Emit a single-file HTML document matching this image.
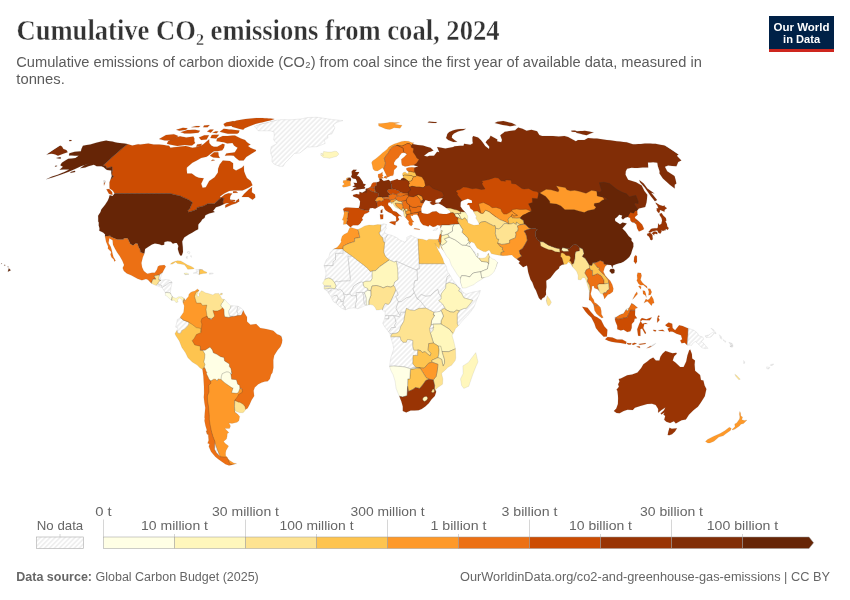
<!DOCTYPE html>
<html><head><meta charset="utf-8"><style>
html,body{margin:0;padding:0;background:#fff;overflow:hidden;width:850px;height:600px;}
svg{display:block;will-change:transform;}
.t{font-family:"Liberation Serif",serif;font-weight:bold;font-size:28px;fill:#333;stroke:#fff;stroke-width:0.35px;}
.st{font-family:"Liberation Sans",sans-serif;font-size:14.7px;fill:#5b5b5b;}
.lg{font-family:"Liberation Sans",sans-serif;font-size:12.8px;fill:#666;}
.ft{font-family:"Liberation Sans",sans-serif;font-size:12.5px;fill:#666;}
.logo{font-family:"Liberation Sans",sans-serif;font-weight:bold;font-size:11.8px;fill:#fff;}
</style></head><body>
<svg width="850" height="600" viewBox="0 0 850 600">
<defs>
<pattern id="hatch" patternUnits="userSpaceOnUse" width="3.5" height="3.5" patternTransform="rotate(-45 2 2)">
<rect x="-1" y="-1" width="6" height="6" fill="#fff"/><path d="M -1,1.75 l 6,0" stroke="#e0e0e0" stroke-width="0.9"/></pattern>
</defs>
<rect width="850" height="600" fill="#fff"/>
<text x="16.5" y="40.5" class="t" transform="translate(0,40.5) scale(1,1.04) translate(0,-40.5)" textLength="483" lengthAdjust="spacingAndGlyphs">Cumulative CO<tspan font-size="17" dy="4">2</tspan><tspan dy="-4"> emissions from coal, 2024</tspan></text>
<text x="16.3" y="66.6" class="st" textLength="685.5" lengthAdjust="spacingAndGlyphs">Cumulative emissions of carbon dioxide (CO₂) from coal since the first year of available data, measured in</text>
<text x="16.3" y="83.8" class="st" textLength="48.5" lengthAdjust="spacingAndGlyphs">tonnes.</text>
<rect x="769" y="16" width="65" height="36" fill="#002147"/>
<rect x="769" y="49" width="65" height="3" fill="#ce261e"/>
<text x="801.5" y="30.7" text-anchor="middle" class="logo" textLength="56" lengthAdjust="spacingAndGlyphs">Our World</text>
<text x="801.6" y="42.5" text-anchor="middle" class="logo" textLength="37" lengthAdjust="spacingAndGlyphs">in Data</text>
<g id="map">
<defs><clipPath id="land">
<path clip-rule="evenodd" d="M182.9,302.5L181.9,299.6L179.5,298.1L177.3,299.9L178.1,302.0L176.0,302.5L174.3,300.2L171.5,300.4L169.8,298.9L166.9,296.2L165.4,295.5L165.3,292.6L163.3,289.4L161.6,287.4L158.5,286.3L154.9,285.0L151.4,283.4L147.9,279.8L146.0,279.0L141.9,280.3L137.6,278.7L134.4,277.1L131.2,275.3L126.9,273.5L123.9,270.9L122.7,268.0L124.1,265.1L122.4,260.7L119.7,256.0L117.2,252.5L114.9,248.4L113.0,244.7L112.6,240.2L109.3,238.2L108.5,242.9L110.7,246.8L111.9,250.7L112.4,253.3L113.5,257.3L114.1,258.0L115.6,260.7L114.3,261.4L113.8,259.6L111.5,257.3L110.5,254.6L111.3,252.0L107.9,248.6L108.1,246.5L106.1,241.8L105.4,238.2L104.9,236.3L105.1,234.5L103.4,232.7L102.0,231.9L99.3,230.8L99.5,228.2L98.7,225.6L98.8,222.5L98.2,221.4L98.2,218.0L98.1,215.7L100.5,212.1L101.3,209.5L105.1,204.8L107.7,200.7L108.9,197.9L109.7,195.1L112.6,195.9L114.5,193.6L113.4,191.5L112.3,190.3L109.6,188.5L109.5,186.0L109.5,182.2L110.6,179.3L111.8,176.1L111.2,173.6L111.3,170.4L107.0,170.0L105.9,169.2L103.7,167.3L101.4,166.3L96.7,166.3L93.9,164.7L88.4,166.3L85.3,167.6L80.2,168.3L84.2,165.2L88.8,163.5L81.0,166.3L75.6,168.8L68.7,171.7L60.5,174.8L53.1,177.3L46.2,179.3L52.0,176.6L57.7,174.8L64.9,171.7L69.2,169.5L66.4,169.5L63.6,169.5L59.6,169.7L62.9,166.8L60.3,165.2L61.8,162.8L65.3,160.4L68.3,158.8L71.8,158.4L75.4,158.1L78.7,155.7L74.8,155.7L71.9,155.6L68.9,155.5L69.4,153.2L74.7,151.8L77.8,151.5L80.9,151.2L81.4,148.9L82.9,145.8L86.6,145.1L90.2,144.5L96.1,142.7L101.1,141.6L106.2,140.6L108.3,140.9L110.4,141.3L112.5,141.6L115.0,142.2L117.6,142.7L119.8,142.9L122.0,143.2L124.7,143.6L127.4,144.1L129.8,144.8L132.3,145.6L138.1,144.2L140.3,144.5L144.3,143.9L148.3,143.4L151.0,143.9L153.7,144.5L156.4,144.5L159.1,144.6L161.8,144.7L164.2,145.1L166.6,145.4L169.1,145.8L170.5,147.8L173.7,147.3L177.0,146.9L180.2,146.5L183.0,146.2L185.7,146.0L188.0,146.6L190.3,147.2L192.6,147.8L195.6,147.2L198.6,146.7L203.0,144.5L209.2,139.3L209.3,142.9L211.3,145.6L213.8,146.7L217.2,146.7L222.7,143.8L224.7,144.5L224.0,147.8L222.3,150.3L217.4,151.2L213.9,151.2L208.1,155.7L206.6,156.7L201.1,158.1L196.8,160.4L192.4,162.8L186.9,167.6L186.7,169.2L187.1,173.6L191.8,173.6L193.8,175.1L195.8,176.6L198.9,177.8L203.8,178.3L201.2,183.7L202.6,187.8L205.8,187.3L209.2,181.0L214.6,177.3L217.9,172.4L218.1,168.8L219.7,164.4L222.8,160.6L226.3,160.8L229.9,160.9L233.1,163.2L233.1,168.8L236.0,170.4L242.0,167.6L243.8,165.6L244.1,171.2L245.4,174.8L246.9,178.0L250.7,181.0L252.5,185.2L249.4,187.3L245.9,188.9L242.4,190.5L239.3,190.5L236.3,190.5L233.3,190.5L229.1,191.0L224.2,193.6L220.0,196.6L220.8,197.4L224.8,194.6L228.3,193.3L232.3,193.6L230.4,196.1L229.9,198.7L231.0,200.5L234.7,201.8L236.2,202.3L238.5,198.9L239.4,201.2L236.3,203.3L231.7,204.8L225.2,207.7L225.4,205.1L229.4,203.0L226.0,203.3L223.6,204.3L220.0,205.9L216.0,207.2L213.8,210.0L213.1,210.8L214.8,212.1L212.1,212.8L209.1,213.6L205.4,215.2L204.5,218.0L202.1,219.6L201.2,221.2L198.7,224.0L198.3,224.8L198.2,229.3L195.7,230.6L192.1,232.7L188.8,234.5L184.2,237.6L182.2,241.6L182.8,247.1L183.0,252.0L181.8,255.4L180.2,255.4L179.0,253.1L177.8,248.9L178.4,246.0L176.8,243.1L175.0,242.9L172.9,243.7L170.9,241.8L167.7,241.3L164.4,242.1L164.2,244.7L161.8,245.2L159.2,244.2L154.9,243.4L152.0,244.4L147.3,247.6L145.1,249.1L144.4,253.6L142.8,257.3L141.4,263.0L142.1,267.2L143.8,271.1L146.3,273.0L147.4,273.7L152.0,272.7L154.8,272.7L157.0,269.6L157.9,266.4L159.6,265.6L164.4,265.1L165.8,266.4L163.7,270.3L162.2,273.2L161.2,275.6L160.3,279.5L159.3,280.0L162.5,280.0L166.0,279.5L169.4,280.0L172.2,282.1L171.0,287.4L170.4,292.6L171.6,295.2L173.1,297.3L176.0,298.3L178.6,296.8L181.8,296.8L184.3,298.6L185.1,300.7Z"/>
<path clip-rule="evenodd" d="M241.7,197.1L245.0,197.1L248.4,197.1L252.6,199.7L255.3,197.4L255.0,194.6L251.8,192.3L252.1,187.0L248.7,189.5L244.0,194.1Z"/>
<path clip-rule="evenodd" d="M112.5,195.1L108.9,193.8L106.4,189.3L109.2,189.0L112.1,192.1Z"/>
<path clip-rule="evenodd" d="M104.0,185.5L103.7,180.8L105.7,181.0Z"/>
<path clip-rule="evenodd" d="M233.0,193.1L238.0,192.8L236.1,191.3L233.1,191.3Z"/>
<path clip-rule="evenodd" d="M230.6,199.7L235.3,200.0L234.9,201.2L231.3,200.7Z"/>
<path clip-rule="evenodd" d="M235.6,202.3L238.9,201.5L239.0,198.7L236.1,200.7Z"/>
<path clip-rule="evenodd" d="M255.9,150.9L250.2,154.6L246.3,156.9L243.6,160.4L239.1,160.4L235.9,158.1L233.7,155.7L231.2,155.5L228.0,155.6L224.9,155.7L226.3,153.4L229.2,153.1L232.0,152.7L234.8,152.3L237.6,147.8L235.8,146.7L234.0,145.6L232.5,142.9L229.8,143.2L227.2,143.4L223.9,142.3L221.4,141.9L218.9,141.6L216.5,141.2L217.0,138.6L222.7,135.9L225.1,135.9L227.5,135.9L230.0,135.8L232.5,135.6L235.0,135.5L236.9,136.5L238.9,137.6L240.9,138.4L243.0,139.3L245.1,140.1L247.0,142.3L248.8,143.4L250.6,144.5L248.0,146.0L250.4,147.8L253.2,148.9L256.0,150.0Z"/>
<path clip-rule="evenodd" d="M219.9,158.1L216.5,157.7L213.2,157.4L209.9,155.7L214.0,152.3L218.3,152.3L218.7,155.7Z"/>
<path clip-rule="evenodd" d="M215.0,160.2L210.9,161.1L212.7,159.5Z"/>
<path clip-rule="evenodd" d="M237.2,133.8L234.8,133.8L232.5,133.8L230.1,133.8L227.8,133.8L225.7,133.3L223.7,132.8L221.7,132.3L219.7,131.8L223.7,128.8L226.4,129.1L229.1,129.4L231.2,129.6L233.3,129.8L235.3,130.0L237.4,130.2L239.5,130.4L238.8,132.8Z"/>
<path clip-rule="evenodd" d="M243.2,129.8L241.0,129.3L238.8,128.8L237.1,128.3L235.3,127.8L233.6,127.3L231.9,126.8L231.8,124.9L231.5,122.3L236.5,120.6L239.5,120.0L242.5,119.5L245.5,119.0L248.2,118.7L250.8,118.5L253.5,118.3L256.2,118.0L258.3,118.1L260.5,118.1L262.6,118.1L264.8,118.2L266.9,118.2L268.8,118.4L270.6,118.6L272.5,118.8L274.4,119.0L270.3,120.4L266.6,121.3L262.9,122.3L259.1,123.1L255.4,124.0L250.8,125.7L248.2,126.8L244.7,128.2Z"/>
<path clip-rule="evenodd" d="M233.0,125.9L230.3,126.1L227.6,126.3L224.9,126.4L224.2,125.2L223.5,124.0L226.5,122.3L229.8,121.7L233.1,121.1L234.6,121.8L236.1,122.6Z"/>
<path clip-rule="evenodd" d="M216.2,138.6L213.3,138.3L210.4,138.0L211.8,134.9L214.2,134.8L216.7,134.7L219.1,134.7Z"/>
<path clip-rule="evenodd" d="M206.6,139.5L203.8,139.8L201.1,140.1L200.0,138.7L198.9,137.4L204.3,135.3L206.6,135.3L209.0,135.3Z"/>
<path clip-rule="evenodd" d="M200.3,146.7L196.1,146.7L197.1,144.5L201.9,143.8Z"/>
<path clip-rule="evenodd" d="M192.0,145.6L189.6,145.4L187.2,145.3L184.8,145.1L181.1,145.6L177.3,146.0L174.7,145.6L172.2,145.1L169.6,144.5L166.9,143.8L168.1,141.2L173.3,138.0L176.7,137.2L180.1,136.3L182.1,136.7L184.1,137.0L186.1,137.4L189.8,136.9L193.4,136.5L194.4,138.6L194.3,141.2L195.2,142.9Z"/>
<path clip-rule="evenodd" d="M174.2,140.1L171.0,140.3L167.9,140.4L164.7,140.6L162.8,140.1L161.0,139.6L159.1,139.1L166.0,134.9L168.7,134.7L171.3,134.4L173.9,134.2L176.0,135.1L178.2,135.9Z"/>
<path clip-rule="evenodd" d="M198.4,132.8L195.8,133.0L193.2,133.2L190.6,133.4L187.5,133.4L184.4,133.4L182.4,132.8L180.5,132.2L187.4,130.0L190.0,129.9L192.6,129.8L195.2,129.8L197.6,130.3L200.1,130.8Z"/>
<path clip-rule="evenodd" d="M210.8,132.8L208.9,132.1L207.0,131.4L209.9,129.6L213.7,129.6Z"/>
<path clip-rule="evenodd" d="M216.6,133.2L214.5,133.0L212.4,132.8L215.7,131.2L218.4,131.6Z"/>
<path clip-rule="evenodd" d="M186.1,129.8L182.8,130.3L179.4,130.8L177.8,130.3L176.2,129.8L182.9,127.8L185.3,128.0L187.6,128.2Z"/>
<path clip-rule="evenodd" d="M207.6,127.2L205.4,127.2L203.2,127.2L204.0,125.5L206.9,125.3L209.7,125.1Z"/>
<path clip-rule="evenodd" d="M198.7,127.2L196.2,127.2L193.7,127.2L191.2,127.2L196.2,125.9L198.2,126.0L200.3,126.1Z"/>
<path clip-rule="evenodd" d="M254.5,126.4L255.7,127.9L257.0,129.3L258.3,130.8L260.8,130.8L263.2,130.8L265.7,130.8L268.1,130.8L270.6,130.8L272.4,131.5L274.2,132.2L274.2,134.9L273.7,140.1L275.3,141.7L277.0,143.4L271.3,146.7L270.6,150.0L270.8,153.4L272.1,156.9L272.0,161.6L273.9,164.0L276.7,165.2L279.5,166.3L283.2,166.3L285.2,162.8L289.1,159.2L294.4,153.4L297.1,153.2L299.8,153.0L303.7,150.0L307.5,147.1L310.6,147.0L313.8,146.8L316.9,146.7L319.7,145.6L322.5,144.5L325.2,143.4L324.2,140.1L327.9,138.0L327.8,134.9L332.0,133.8L333.4,130.8L334.9,127.8L333.3,124.9L336.9,122.3L340.0,121.4L342.9,120.6L340.9,120.4L338.8,120.2L336.8,120.0L334.8,119.8L332.5,119.5L330.3,119.2L328.1,119.0L326.0,118.6L324.0,118.3L321.9,118.0L319.9,117.6L317.9,117.3L315.5,117.3L313.1,117.4L310.7,117.4L308.4,117.5L305.8,117.9L303.2,118.5L300.6,119.0L298.0,119.2L295.5,119.4L292.9,119.6L290.3,119.8L288.3,119.7L286.2,119.7L284.2,119.6L282.1,119.6L279.4,119.9L276.7,120.2L274.1,120.8L271.5,121.4L266.7,122.8L263.9,123.4L261.2,124.0L257.9,125.2Z"/>
<path clip-rule="evenodd" d="M170.3,264.2L171.7,262.8L174.6,261.4L177.4,260.7L180.8,260.9L183.9,262.8L187.1,264.8L190.8,266.2L194.2,268.2L193.4,269.0L187.7,269.3L186.4,267.2L184.4,264.8L180.8,264.1L177.5,263.5L175.7,262.0L172.5,264.1Z"/>
<path clip-rule="evenodd" d="M193.2,273.2L196.8,273.2L199.2,274.8L199.9,274.3L203.2,273.5L206.6,273.2L206.9,272.2L203.9,270.9L202.4,269.6L199.7,269.3L195.9,269.6L197.0,271.7Z"/>
<path clip-rule="evenodd" d="M184.0,273.7L185.3,274.7L187.6,274.5L189.0,274.3L188.1,273.5L186.4,273.0L184.5,273.1Z"/>
<path clip-rule="evenodd" d="M209.5,274.3L213.2,273.7L213.2,273.2L209.6,273.0Z"/>
<path clip-rule="evenodd" d="M187.8,251.5L190.0,252.0L189.2,253.9L187.2,252.5Z"/>
<path clip-rule="evenodd" d="M187.1,256.0L187.4,258.6L186.1,258.0Z"/>
<path clip-rule="evenodd" d="M191.0,255.4L191.4,257.3L190.5,256.0Z"/>
<path clip-rule="evenodd" d="M220.1,294.9L222.2,294.9L222.3,293.1L220.4,293.4Z"/>
<path clip-rule="evenodd" d="M7.8,271.7L10.8,270.3L8.8,268.2Z"/>
<path clip-rule="evenodd" d="M7.3,266.9L8.8,267.2L8.1,266.4Z"/>
<path clip-rule="evenodd" d="M4.0,265.6L5.3,265.6L4.9,264.6Z"/>
<path clip-rule="evenodd" d="M0.9,264.1L2.1,263.8L1.6,263.3Z"/>
<path clip-rule="evenodd" d="M69.9,173.1L75.4,171.9L74.8,170.7L71.3,171.7Z"/>
<path clip-rule="evenodd" d="M56.1,158.1L58.4,158.4L60.8,158.8L60.6,157.1Z"/>
<path clip-rule="evenodd" d="M54.6,166.8L57.4,165.9L55.8,165.4Z"/>
<path clip-rule="evenodd" d="M184.3,298.6L185.6,300.4L186.3,299.1L188.5,296.5L188.9,294.2L190.6,292.6L192.0,291.8L194.8,291.0L197.5,288.9L199.2,290.5L198.0,292.6L197.1,294.7L197.9,297.0L199.2,295.7L198.8,293.4L200.5,292.1L201.3,290.8L202.9,291.3L205.3,292.8L208.5,293.6L213.0,294.9L214.9,293.6L218.8,293.4L219.9,295.2L222.0,298.9L224.8,299.6L228.3,303.6L230.8,305.7L235.2,305.9L238.0,306.2L241.8,308.5L243.4,310.4L244.7,313.5L247.0,316.9L247.0,321.4L250.5,324.8L256.2,324.0L260.2,327.9L266.0,329.0L272.5,330.5L273.6,331.0L277.1,334.2L281.3,335.8L282.3,339.9L281.9,343.1L280.4,346.7L277.5,350.2L274.2,355.4L273.3,360.1L273.4,367.7L272.4,372.7L271.1,374.5L269.8,378.9L267.7,381.3L265.0,381.6L261.7,382.6L258.2,384.2L254.7,387.6L253.6,390.7L254.2,395.9L251.6,399.9L249.6,404.6L247.6,408.2L245.6,409.6L244.0,411.9L242.9,412.7L240.0,412.7L236.3,411.6L234.8,410.3L235.1,411.9L238.0,414.5L239.7,416.6L238.9,420.8L237.1,422.3L232.0,423.4L229.0,422.9L230.5,426.0L229.5,428.6L224.8,428.6L227.7,431.2L228.9,432.7L227.3,433.5L227.1,436.4L226.5,438.9L223.6,441.5L225.3,443.5L228.6,446.1L226.1,450.4L225.6,453.0L225.7,455.7L227.6,457.5L227.6,458.2L229.7,460.5L233.7,463.0L236.7,463.7L234.2,464.2L231.6,464.9L229.0,465.4L225.5,464.2L221.2,461.2L218.4,459.2L215.3,456.7L211.1,451.7L208.8,446.6L209.5,444.1L207.6,443.3L208.7,440.2L208.3,436.4L208.3,433.8L206.6,431.2L206.8,429.9L205.5,425.7L204.5,420.8L204.8,418.2L204.5,417.7L204.8,413.0L205.3,407.7L204.4,402.5L203.8,397.3L204.1,393.3L204.0,386.8L203.8,383.1L203.4,376.3L202.5,369.5L199.8,367.7L197.1,365.1L192.2,361.9L187.9,357.7L185.5,352.8L181.9,347.5L179.3,341.0L175.9,335.8L174.9,333.7L176.9,330.3L178.0,327.9L175.6,327.1L176.5,323.7L177.4,319.3L180.0,318.2L180.5,316.7L183.6,312.2L183.9,309.6L184.2,305.7L182.9,302.5L185.1,300.7Z"/>
<path clip-rule="evenodd" d="M206.0,430.7L207.9,431.4L208.9,434.8L207.0,434.3Z"/>
<path clip-rule="evenodd" d="M438.1,239.5L433.9,239.5L428.8,239.2L426.7,240.5L422.6,239.2L418.0,238.7L414.3,237.1L410.9,235.3L406.8,237.4L406.8,240.2L404.7,242.1L400.1,240.2L396.7,237.6L391.5,235.3L387.8,234.5L384.9,233.2L384.6,231.1L386.5,228.2L385.6,227.7L386.3,224.6L384.6,224.0L383.7,223.8L381.1,224.8L377.7,224.6L373.4,225.3L369.0,225.1L364.7,225.9L361.2,228.0L357.8,229.5L356.0,229.0L351.0,227.4L349.7,227.7L348.8,229.8L347.7,232.4L345.9,233.4L343.9,234.5L342.1,236.3L340.9,240.2L341.3,241.8L339.2,245.0L336.9,247.6L333.5,249.1L330.0,252.8L328.8,257.3L326.5,259.4L324.0,265.4L325.5,270.3L326.1,274.0L324.9,279.0L323.2,282.6L322.5,282.9L324.0,285.3L324.0,288.7L324.7,289.4L326.9,290.8L328.7,293.4L331.0,296.5L332.1,299.1L333.7,302.0L336.3,303.3L337.6,304.9L341.8,308.3L345.2,309.9L348.7,308.5L353.3,307.8L357.9,308.8L360.2,307.8L362.1,307.0L365.3,305.4L368.1,304.9L370.4,304.6L372.9,305.1L375.2,307.5L376.4,310.1L378.7,309.9L381.7,309.3L383.3,310.9L384.9,310.9L385.2,313.5L385.2,315.6L384.5,318.8L384.0,320.3L382.7,323.2L384.5,326.6L388.0,331.0L390.0,333.9L390.7,337.1L392.3,342.3L392.9,344.4L393.8,348.8L391.5,355.4L390.5,359.3L389.5,366.6L391.0,370.8L393.2,375.0L395.1,381.3L396.0,388.1L397.5,392.0L399.3,396.2L401.3,401.2L402.8,406.4L402.8,411.1L405.1,411.9L406.2,412.4L410.7,410.6L414.6,410.5L418.6,410.3L421.7,409.0L425.3,406.4L428.8,403.3L431.4,399.6L434.8,395.9L436.2,391.8L435.7,389.4L437.8,387.6L442.6,384.2L442.9,378.9L441.9,375.0L441.6,373.2L445.6,369.8L448.0,367.2L451.6,365.3L455.2,360.6L455.8,358.0L455.6,351.5L455.5,348.8L454.0,342.3L453.2,339.2L452.1,335.8L453.0,333.7L454.2,331.8L455.4,328.7L458.4,325.8L460.8,322.7L464.2,318.8L467.2,316.1L471.1,311.2L474.0,307.0L476.6,300.4L479.4,293.9L480.4,290.5L477.4,291.3L472.9,292.1L469.5,293.1L466.1,294.2L462.5,291.8L461.8,291.0L460.6,288.7L457.7,286.0L454.0,281.3L452.9,280.5L450.3,275.6L447.9,272.2L447.1,270.1L446.4,266.4L443.9,262.5L442.8,258.8L440.0,253.3L438.1,249.9L434.9,243.1L436.5,246.0L439.2,248.9L440.1,244.2L439.0,241.3Z"/>
<path clip-rule="evenodd" d="M475.8,352.6L476.9,357.3L478.0,361.9L476.2,365.9L474.4,370.4L472.6,375.0L470.7,380.6L468.8,386.3L463.8,388.4L461.6,385.5L460.5,378.9L463.1,373.7L463.0,369.8L462.9,365.9L468.4,362.4L472.6,356.7Z"/>
<path clip-rule="evenodd" d="M350.4,227.2L348.9,225.9L346.6,224.0L343.3,224.6L343.7,220.6L342.2,219.9L343.4,216.7L344.1,213.6L343.8,211.6L343.1,209.0L345.4,207.4L347.9,207.4L352.1,207.7L356.3,207.9L358.8,207.9L359.8,205.1L360.1,201.2L358.1,198.2L353.4,196.6L352.8,195.1L356.5,194.1L359.3,194.6L359.5,191.8L362.1,192.8L365.6,190.8L365.7,188.8L367.5,188.3L369.3,187.5L370.9,186.2L371.8,183.7L373.3,182.5L376.2,182.2L378.2,182.0L379.7,181.0L379.1,178.5L378.1,177.0L378.1,174.3L380.6,173.4L382.5,171.9L382.4,174.6L383.2,175.6L382.1,176.8L381.5,178.5L381.9,179.5L383.8,181.0L385.9,180.5L388.7,179.8L390.2,181.3L393.6,180.3L397.3,179.0L398.6,180.0L400.6,180.0L401.2,178.8L403.2,177.8L402.9,175.8L402.4,173.9L403.3,172.4L405.2,171.9L407.1,173.6L408.3,173.6L408.5,171.7L406.5,170.0L406.3,168.3L408.5,167.6L411.7,167.3L414.5,167.6L418.3,166.6L416.0,165.9L413.6,165.2L410.4,165.4L408.4,165.9L405.0,166.6L402.0,165.2L401.5,162.8L401.3,159.2L404.2,156.9L406.5,154.6L407.3,154.6L404.7,152.8L401.8,153.0L399.6,155.7L398.6,157.4L395.8,159.7L394.0,162.8L394.1,164.7L397.2,166.1L396.5,167.8L394.0,170.0L393.7,173.6L393.1,175.6L390.3,176.1L387.4,177.5L386.4,175.3L384.8,171.9L383.4,169.0L382.2,167.8L381.2,168.8L377.6,170.9L374.8,170.7L373.0,169.0L372.3,165.4L371.6,162.8L372.5,160.9L375.1,159.2L377.3,157.4L380.5,154.8L382.6,152.8L385.0,150.9L387.3,148.9L388.8,147.1L391.1,145.6L394.1,144.0L397.3,142.9L401.5,141.4L404.8,141.0L408.5,141.2L412.2,142.7L413.9,142.7L412.6,144.0L415.2,144.5L417.8,144.9L420.4,145.2L423.0,145.6L426.8,146.7L430.5,147.8L433.5,150.5L431.1,151.4L428.6,152.3L426.3,154.0L424.0,155.7L427.2,156.4L429.5,155.7L434.0,155.7L437.1,151.8L439.3,152.3L437.1,147.1L441.6,147.8L445.3,148.5L447.9,148.0L450.6,147.6L453.2,147.1L454.5,146.2L457.3,146.0L460.1,145.8L463.5,145.8L464.1,143.8L467.3,144.2L470.4,144.7L472.9,143.2L472.5,141.2L472.4,137.4L473.2,136.1L478.1,137.4L480.8,140.1L482.6,142.3L485.2,146.0L489.0,148.9L489.3,146.7L485.6,142.3L487.3,140.1L489.3,138.4L490.6,135.7L497.4,139.5L497.1,141.2L501.2,142.3L502.0,140.1L500.3,135.3L501.8,134.1L503.3,132.9L504.7,131.8L506.9,131.4L509.1,131.1L511.2,130.8L513.2,130.5L515.1,130.2L516.7,128.8L518.2,127.4L522.5,128.8L526.6,130.8L529.0,130.3L531.4,129.8L537.1,131.2L539.3,134.9L542.1,135.9L544.8,135.9L547.4,135.9L550.1,135.9L553.0,136.1L555.9,136.3L558.8,136.5L561.6,136.2L564.4,135.9L568.1,136.9L575.9,141.2L577.9,140.1L581.1,140.1L584.4,140.1L586.2,139.1L588.0,138.0L591.0,138.2L594.0,138.4L597.0,138.6L600.3,139.1L603.6,139.5L606.9,139.9L610.2,140.3L613.6,140.8L616.9,141.2L620.2,141.6L623.5,141.9L626.7,142.3L632.9,144.2L635.6,144.2L638.3,144.1L640.9,144.0L642.9,143.7L644.9,143.4L647.6,143.5L650.2,143.6L652.9,143.7L655.6,143.8L660.3,144.7L665.0,145.6L671.9,150.0L678.6,154.6L676.8,155.7L681.4,160.4L679.8,161.2L678.2,162.1L677.3,164.2L676.4,166.3L672.2,166.0L668.1,165.6L664.9,166.8L667.2,171.2L674.5,176.1L675.6,179.8L676.4,183.5L674.7,184.7L674.7,188.5L669.8,184.7L662.9,178.5L659.5,173.6L659.6,171.2L657.9,166.3L657.3,162.8L653.1,162.3L650.5,162.4L647.9,162.5L648.1,165.0L648.2,167.6L645.4,167.6L642.6,167.6L640.1,167.8L637.5,168.0L634.6,167.9L631.7,167.8L629.4,168.3L627.1,168.8L625.8,171.2L625.5,174.8L628.1,179.8L632.1,181.0L636.1,182.2L641.7,185.5L644.4,191.0L647.3,194.8L647.0,198.7L646.5,202.5L645.2,206.9L642.1,207.7L638.9,208.4L637.7,210.0L637.2,210.5L637.4,214.1L637.7,214.7L635.2,216.7L634.8,218.0L638.0,220.4L642.1,224.6L643.9,228.5L643.5,229.5L640.8,230.8L638.9,231.4L637.2,228.5L636.3,224.6L634.2,222.7L632.1,222.5L630.4,220.6L630.1,218.0L627.7,217.0L625.1,217.8L623.0,219.6L621.4,218.0L622.2,215.4L619.2,214.7L617.2,217.0L614.9,218.8L615.2,220.9L619.0,223.5L620.0,224.3L622.6,222.5L626.8,223.5L624.6,225.9L622.4,228.5L625.4,231.6L628.8,236.3L631.5,238.4L631.5,240.8L633.3,242.9L633.4,246.8L632.1,250.2L631.0,253.9L629.3,257.0L626.5,259.6L623.5,261.7L620.8,263.0L619.2,263.3L616.0,264.3L612.9,265.6L612.6,268.2L611.0,265.1L607.1,264.8L605.1,266.4L604.4,268.2L603.4,271.7L605.3,275.6L608.1,278.7L610.2,280.8L612.3,284.7L613.4,288.7L612.8,291.8L609.8,293.9L608.0,294.4L604.4,298.9L603.8,296.5L602.9,294.2L600.6,293.6L599.2,291.3L597.9,289.4L594.3,288.1L593.9,286.0L591.9,286.3L591.9,288.7L590.7,293.9L591.9,297.3L593.6,299.4L594.5,302.5L596.1,303.3L598.1,305.1L600.5,307.5L601.3,310.9L601.4,314.3L603.3,317.4L601.7,318.0L598.2,315.3L596.6,313.8L594.6,310.4L594.0,307.0L593.4,304.4L590.7,300.7L589.0,299.9L589.2,295.7L589.3,291.3L587.7,286.0L586.2,280.8L584.9,277.9L582.8,277.4L580.8,280.0L578.0,279.5L578.2,275.6L576.8,271.7L575.1,269.6L572.2,266.4L571.6,265.1L570.1,263.0L568.2,262.0L566.9,264.1L564.0,264.6L562.0,264.8L559.5,266.4L558.9,268.5L555.8,270.9L553.8,273.5L550.4,277.9L548.1,279.5L546.2,280.8L546.5,287.1L545.9,291.3L546.1,294.4L544.4,297.3L542.6,298.1L541.1,300.2L538.9,298.1L537.3,293.9L536.0,290.5L534.2,287.6L532.4,282.6L530.5,279.5L528.8,274.3L528.1,271.7L527.5,267.7L527.0,265.4L525.7,265.9L523.1,267.2L518.6,263.0L520.0,261.7L517.3,259.6L514.1,257.3L513.3,256.5L512.0,254.9L507.5,255.4L503.1,255.7L501.0,255.4L497.4,254.9L492.8,254.1L491.2,253.6L489.7,250.5L488.5,250.2L485.8,251.8L483.5,251.5L479.9,249.7L477.1,248.1L475.7,245.7L474.2,243.1L471.1,241.8L470.4,243.1L469.2,244.2L470.4,246.8L473.3,250.5L475.1,252.5L476.1,256.0L477.4,257.0L478.5,255.4L478.1,253.1L477.2,253.3L477.1,256.5L478.8,258.0L482.0,258.3L485.3,257.8L487.3,255.2L488.4,253.1L489.4,256.2L492.2,258.8L494.7,259.6L497.7,262.5L495.9,267.7L494.0,271.7L491.7,274.3L488.5,276.4L483.8,277.7L481.4,279.5L477.0,282.1L473.7,284.7L469.7,286.3L465.8,287.9L462.4,288.1L460.5,282.6L460.1,278.2L457.1,274.3L454.6,270.3L451.3,265.1L449.4,259.4L446.4,256.0L444.4,252.0L441.1,247.8L440.1,244.2L439.0,241.3L438.1,239.5L438.7,238.7L439.3,236.3L439.6,234.8L440.2,232.7L440.9,230.8L440.7,229.0L440.2,227.2L440.9,225.6L439.4,225.6L437.6,225.1L435.2,226.6L433.0,226.9L429.6,225.1L428.4,226.4L425.3,225.6L423.1,225.1L421.4,223.3L420.1,221.2L419.1,218.0L418.4,216.7L418.3,216.0L416.6,214.4L413.5,214.7L412.5,216.0L410.6,215.4L411.2,218.0L412.6,220.6L414.2,221.9L412.3,222.2L412.7,224.6L411.3,226.1L409.5,225.1L408.4,223.0L408.9,221.2L407.6,219.9L405.7,217.8L404.0,215.7L403.5,212.1L402.3,210.8L399.2,209.0L396.0,207.7L394.2,205.9L392.6,203.3L391.2,204.1L390.6,202.3L388.2,202.8L388.1,205.1L391.0,207.7L393.1,211.0L396.7,211.8L398.6,213.9L401.9,216.5L399.1,215.7L397.9,217.0L399.2,219.3L398.0,220.9L396.1,221.9L396.2,219.6L396.0,216.7L393.3,214.9L391.5,213.4L388.7,212.3L385.9,210.5L384.6,209.0L383.8,206.6L381.1,205.4L378.2,206.9L375.1,208.7L372.6,207.9L369.9,208.2L369.1,210.5L369.3,211.8L367.2,213.1L364.5,214.1L363.0,216.7L361.9,218.0L363.0,219.9L361.5,221.2L360.8,223.0L359.1,224.6L358.0,225.3L353.0,225.3ZM423.9,213.6L427.2,213.9L429.2,213.4L432.1,211.8L436.3,211.3L439.4,213.4L443.1,214.1L446.7,214.1L450.3,212.8L450.1,211.0L446.2,207.9L442.6,205.6L439.9,204.1L438.3,203.3L436.1,203.8L433.8,205.1L431.9,204.8L429.7,202.8L431.8,201.5L428.4,201.0L425.6,200.0L423.9,202.5L422.3,205.6L421.2,208.4L421.4,211.6L421.7,212.8ZM435.3,202.8L435.4,200.0L438.3,198.7L441.2,198.2L442.9,198.2L441.0,200.2L440.5,201.8L438.6,202.8ZM460.7,202.5L460.5,206.4L462.4,209.2L465.1,212.1L467.8,216.0L467.5,220.6L468.1,223.0L471.7,224.6L474.0,225.3L479.1,224.8L479.0,223.5L477.4,220.6L475.7,218.0L476.5,216.7L474.1,212.8L472.9,210.3L470.4,208.4L469.1,205.1L467.0,204.8L468.0,203.0L472.1,203.0L471.9,200.5L467.9,198.7L464.2,200.0L461.4,201.2Z"/>
<path clip-rule="evenodd" d="M60.1,145.6L62.0,146.5L62.7,147.7L63.4,148.9L65.0,149.6L66.6,150.3L67.7,152.3L63.9,153.4L58.0,155.7L55.2,154.6L53.3,154.1L51.3,153.7L46.5,154.6L53.2,150.0Z"/>
<path clip-rule="evenodd" d="M69.0,140.1L69.6,141.2L72.0,140.8L71.0,139.9Z"/>
<path clip-rule="evenodd" d="M351.1,191.0L354.5,190.0L358.6,189.5L361.6,189.1L364.5,188.8L365.3,187.5L364.1,186.5L365.9,184.5L363.1,183.5L362.9,182.0L361.6,180.0L359.7,177.3L358.7,176.3L356.8,176.1L358.8,173.1L359.2,172.1L356.9,171.9L355.0,172.1L356.8,169.7L353.2,169.7L351.6,171.4L351.9,174.8L351.0,176.8L352.9,178.5L355.8,179.0L356.7,181.0L357.1,182.5L356.7,183.0L353.5,182.7L354.3,184.0L354.7,185.5L352.3,186.5L355.6,187.5L356.6,188.0L354.2,188.3L352.6,189.8Z"/>
<path clip-rule="evenodd" d="M350.7,185.5L350.4,182.5L351.1,179.5L350.6,177.8L348.5,177.5L346.6,178.0L346.0,180.3L343.3,180.5L343.0,182.5L344.5,184.0L342.0,186.0L343.5,187.3L346.7,186.8Z"/>
<path clip-rule="evenodd" d="M323.4,157.4L326.5,157.8L329.5,158.3L333.2,157.3L336.9,156.2L338.9,154.1L336.9,151.6L334.9,151.2L331.3,152.1L327.8,152.1L323.6,151.4L323.2,153.4L320.6,153.4L323.8,155.1L320.4,154.8Z"/>
<path clip-rule="evenodd" d="M389.2,222.5L395.2,225.3L396.1,221.2L391.1,221.4Z"/>
<path clip-rule="evenodd" d="M380.5,219.3L383.1,219.1L383.3,214.4L379.9,214.4Z"/>
<path clip-rule="evenodd" d="M380.7,213.1L382.4,212.8L382.5,209.0L380.6,210.5Z"/>
<path clip-rule="evenodd" d="M413.7,229.0L419.9,229.8L419.6,229.0L414.7,228.2Z"/>
<path clip-rule="evenodd" d="M433.0,230.6L436.7,230.0L437.7,228.0L434.2,229.3Z"/>
<path clip-rule="evenodd" d="M383.7,177.8L386.9,178.5L386.5,175.8L384.6,176.3Z"/>
<path clip-rule="evenodd" d="M381.4,178.3L383.4,178.3L382.7,177.0L381.6,177.3Z"/>
<path clip-rule="evenodd" d="M378.7,125.9L381.9,127.3L385.2,128.8L387.5,129.2L389.9,129.6L392.0,128.7L394.0,127.8L397.0,128.0L400.1,128.2L402.1,125.3L399.5,124.9L397.0,124.5L394.4,124.0L397.1,123.3L399.7,122.6L397.2,122.5L394.6,122.4L392.1,122.3L389.6,122.3L387.6,122.7L385.5,123.1L383.2,123.3L380.8,123.4L378.4,123.5Z"/>
<path clip-rule="evenodd" d="M448.2,140.1L446.0,138.0L446.8,135.9L447.3,134.0L449.2,132.0L451.0,131.2L452.7,130.4L455.3,129.8L457.9,129.2L460.6,129.0L463.3,128.9L465.9,128.8L463.3,130.2L460.7,130.8L458.0,131.4L456.0,132.4L454.0,133.4L452.1,135.5L451.8,137.8L454.8,140.3L457.3,141.8L453.3,142.1Z"/>
<path clip-rule="evenodd" d="M502.7,124.9L506.5,125.6L510.3,126.3L512.3,125.9L514.4,125.6L516.4,125.3L511.9,123.1L507.6,122.1L503.3,121.1L501.3,121.3L499.2,121.5L497.2,121.7L495.9,122.4L494.7,123.1L498.7,124.0Z"/>
<path clip-rule="evenodd" d="M575.7,132.8L579.3,133.6L582.9,134.4L586.5,135.3L588.2,134.5L589.8,133.8L591.8,133.1L593.7,132.4L589.3,131.6L584.8,130.8L582.5,130.9L580.2,131.0L577.8,131.2L576.8,132.0Z"/>
<path clip-rule="evenodd" d="M571.8,131.8L574.4,131.9L576.9,132.0L579.4,132.2L575.0,130.4L573.0,130.6L571.0,130.8Z"/>
<path clip-rule="evenodd" d="M427.6,122.6L430.3,122.8L433.0,123.0L435.8,123.1L437.2,122.1L434.5,121.9L431.7,121.7L429.0,121.6Z"/>
<path clip-rule="evenodd" d="M654.9,201.2L657.1,200.0L651.2,192.8L654.4,193.6L647.4,188.5L643.7,183.5L639.3,180.0L640.0,182.2L644.5,187.3L647.7,191.7L650.7,196.1Z"/>
<path clip-rule="evenodd" d="M658.6,213.1L659.9,212.1L659.7,210.8L660.2,210.0L664.5,211.8L664.6,210.0L665.4,209.2L667.0,208.2L664.7,206.4L664.8,205.6L662.9,206.1L659.7,205.1L655.6,202.5L655.9,203.8L657.3,205.6L658.4,208.2L656.5,208.2L656.8,209.2L656.7,210.8Z"/>
<path clip-rule="evenodd" d="M648.9,232.4L650.9,232.4L652.1,231.6L654.0,231.1L656.4,230.6L657.6,230.8L657.8,231.6L658.4,232.7L660.3,233.8L660.9,232.7L661.7,231.6L661.0,230.6L662.2,230.8L664.2,230.8L665.0,229.8L665.5,230.8L665.5,229.5L666.6,229.0L667.3,230.0L668.2,229.3L668.7,228.0L667.3,226.4L666.9,224.0L665.4,221.2L666.4,220.6L665.8,218.0L663.2,215.4L661.6,213.1L660.6,213.6L659.6,213.6L659.7,215.2L661.5,218.0L662.1,220.6L661.7,222.2L661.4,223.8L659.5,225.1L658.1,223.3L658.1,224.6L657.8,227.4L657.1,228.2L654.9,228.2L652.4,228.5L650.9,229.0L649.6,230.8L648.6,231.6Z"/>
<path clip-rule="evenodd" d="M647.1,233.7L648.3,233.4L649.3,232.7L651.1,233.4L652.4,235.0L652.5,236.8L652.8,239.2L651.6,240.2L650.3,239.7L650.0,238.4L648.8,236.3L647.8,236.1L647.1,234.8Z"/>
<path clip-rule="evenodd" d="M653.0,234.2L654.2,235.5L654.2,234.0L655.4,233.7L657.2,234.2L657.5,232.9L656.8,231.9L655.2,231.4L653.8,231.6L652.9,232.4L651.7,233.2Z"/>
<path clip-rule="evenodd" d="M633.8,261.2L635.7,264.1L637.0,261.4L636.9,256.0L635.4,255.2L634.2,257.0Z"/>
<path clip-rule="evenodd" d="M609.4,270.9L611.9,273.7L614.3,273.0L614.7,270.1L613.4,268.8L610.5,269.0Z"/>
<path clip-rule="evenodd" d="M546.4,300.4L547.1,295.7L549.6,298.9L551.4,302.3L549.9,305.1L548.5,305.9L547.1,304.1Z"/>
<path clip-rule="evenodd" d="M638.8,283.9L640.6,285.3L643.3,285.0L647.4,288.4L646.9,286.3L644.3,284.5L642.3,282.6L640.5,279.8L641.6,275.8L640.9,273.0L637.7,272.7L637.0,275.3L637.4,279.0L636.7,280.3L638.2,283.2Z"/>
<path clip-rule="evenodd" d="M643.9,303.1L647.2,301.2L648.4,302.3L651.6,305.7L652.4,303.6L654.2,303.1L653.3,299.1L651.4,295.7L649.3,299.1L647.8,299.9L645.9,299.1Z"/>
<path clip-rule="evenodd" d="M648.5,295.2L650.6,294.7L651.7,292.1L650.2,288.7L647.9,288.7L648.9,291.8Z"/>
<path clip-rule="evenodd" d="M643.1,293.9L645.3,295.2L646.4,297.6L645.9,293.9L644.9,291.0L642.8,290.5Z"/>
<path clip-rule="evenodd" d="M632.5,299.4L634.3,297.8L637.6,293.9L636.9,291.8L635.1,294.2Z"/>
<path clip-rule="evenodd" d="M638.4,286.3L640.8,289.2L641.2,286.8L639.5,285.8Z"/>
<path clip-rule="evenodd" d="M582.2,306.7L587.6,307.8L590.5,311.4L594.5,316.1L597.1,317.2L601.1,320.1L604.2,326.3L607.4,329.7L606.9,336.5L603.7,336.8L598.8,331.8L595.9,327.9L594.4,323.5L591.3,317.4L588.0,314.6L585.2,311.2Z"/>
<path clip-rule="evenodd" d="M605.1,339.2L607.6,337.1L612.4,337.6L617.1,339.4L622.2,339.4L626.4,341.8L626.0,344.1L620.6,343.1L616.0,342.6L611.5,341.8L608.1,340.7Z"/>
<path clip-rule="evenodd" d="M614.4,317.4L615.6,321.9L617.2,325.8L617.3,329.2L620.8,330.5L623.6,329.7L627.2,332.1L630.4,331.3L631.7,327.9L631.8,324.0L634.1,321.4L634.6,318.8L637.1,318.2L635.0,315.3L635.2,308.8L637.7,307.8L634.0,304.6L631.6,303.1L628.9,308.0L626.0,309.3L623.6,313.3L619.7,314.8L616.7,316.7Z"/>
<path clip-rule="evenodd" d="M638.1,335.8L640.4,336.0L640.4,329.2L642.1,328.4L645.1,333.9L646.1,333.1L643.3,327.9L644.3,324.0L647.5,324.0L645.7,322.9L642.2,323.7L640.1,320.1L641.9,318.0L646.4,319.3L650.3,317.7L651.9,317.4L649.8,320.3L646.1,320.2L642.4,320.1L640.4,321.6L639.2,324.0L637.2,329.2Z"/>
<path clip-rule="evenodd" d="M657.2,322.7L659.6,320.1L658.3,317.4L659.9,316.1L658.1,315.6L657.2,318.8Z"/>
<path clip-rule="evenodd" d="M658.2,330.3L662.8,329.7L664.6,331.3L659.3,330.8Z"/>
<path clip-rule="evenodd" d="M653.4,329.7L656.3,330.3L655.6,331.6L653.5,331.0Z"/>
<path clip-rule="evenodd" d="M646.6,348.3L650.3,346.0L655.8,343.3L654.8,344.4L650.2,347.3Z"/>
<path clip-rule="evenodd" d="M638.5,344.1L642.4,343.6L645.9,343.1L645.4,343.9L640.0,344.7Z"/>
<path clip-rule="evenodd" d="M631.6,343.9L634.4,342.8L636.9,343.6L633.1,344.9Z"/>
<path clip-rule="evenodd" d="M626.4,342.8L629.1,343.3L631.4,343.1L630.6,344.7L627.9,344.4Z"/>
<path clip-rule="evenodd" d="M636.4,346.5L639.5,346.2L640.2,348.1L637.8,347.3Z"/>
<path clip-rule="evenodd" d="M665.3,325.0L668.6,322.4L672.2,323.7L672.6,327.9L675.1,330.3L679.1,325.3L682.6,326.1L687.2,327.9L688.3,328.2L694.0,330.3L697.3,332.9L699.0,335.8L702.8,337.1L703.6,339.2L701.4,341.5L703.9,343.6L706.0,346.2L708.0,348.3L705.3,348.6L701.9,347.8L699.0,344.7L695.4,341.5L692.9,343.1L691.8,345.2L687.2,345.2L684.7,342.8L681.6,343.3L680.2,340.5L682.2,339.2L681.0,335.2L676.5,333.7L672.9,331.8L670.8,331.6L669.2,332.1L667.5,328.7L670.1,327.6L667.5,327.1L665.3,325.3Z"/>
<path clip-rule="evenodd" d="M705.0,335.8L708.8,335.0L712.6,332.4L714.2,333.4L710.9,337.1L706.3,337.6Z"/>
<path clip-rule="evenodd" d="M710.9,328.2L713.6,329.7L716.2,333.4L715.1,333.7L713.1,330.5Z"/>
<path clip-rule="evenodd" d="M719.4,334.7L721.3,336.8L722.1,339.2L720.5,338.4Z"/>
<path clip-rule="evenodd" d="M723.4,339.7L725.8,341.3L725.3,342.3L723.6,340.7Z"/>
<path clip-rule="evenodd" d="M728.9,342.3L732.3,343.6L733.1,346.2L730.9,345.2Z"/>
<path clip-rule="evenodd" d="M730.0,345.7L732.7,346.2L732.3,347.3L730.3,346.7Z"/>
<path clip-rule="evenodd" d="M743.6,360.6L744.9,361.9L744.0,363.8L743.5,361.9Z"/>
<path clip-rule="evenodd" d="M734.8,374.2L736.7,375.5L740.3,379.2L738.8,379.7L735.8,376.3Z"/>
<path clip-rule="evenodd" d="M766.6,366.9L769.7,367.4L768.8,369.0L766.8,368.7Z"/>
<path clip-rule="evenodd" d="M770.8,364.5L773.7,364.0L772.2,365.6L770.2,365.3Z"/>
<path clip-rule="evenodd" d="M618.7,378.9L620.8,378.4L627.2,375.3L632.1,374.5L637.5,372.4L641.2,367.9L643.4,364.3L647.3,361.4L649.9,359.3L653.2,357.5L655.9,360.6L659.4,360.4L660.4,356.7L662.4,353.8L665.4,350.9L667.2,351.5L669.2,352.2L672.5,353.3L676.3,352.8L676.8,353.8L674.2,356.2L672.7,360.4L675.7,362.7L680.2,366.9L683.6,366.9L686.2,361.4L687.4,355.4L689.2,350.2L690.2,349.4L691.9,354.1L692.2,358.5L695.0,360.6L694.6,364.5L695.1,370.8L700.1,375.0L701.0,380.0L703.4,380.5L704.6,385.5L706.4,389.1L704.8,396.2L700.9,402.5L697.9,406.7L693.7,410.1L688.9,414.8L685.9,419.5L681.6,420.3L675.8,423.4L673.9,421.3L670.1,422.9L666.3,421.8L664.2,419.7L665.2,416.1L663.4,414.5L664.6,412.4L661.4,414.5L660.6,413.5L664.0,410.3L665.3,407.5L661.2,410.3L658.1,412.7L658.2,409.0L655.7,405.1L652.0,403.8L647.3,404.1L640.4,405.9L634.9,407.7L632.8,410.1L627.5,409.8L623.7,411.1L619.6,413.2L616.6,413.0L613.8,411.1L616.3,408.5L617.9,404.1L618.1,398.6L618.0,395.9L617.4,390.7L616.5,389.7L618.9,386.8L618.1,384.2L619.5,381.6Z"/>
<path clip-rule="evenodd" d="M669.5,427.8L671.8,428.8L677.0,428.3L675.0,431.4L672.0,434.3L669.2,435.3L667.7,435.1L668.3,431.7Z"/>
<path clip-rule="evenodd" d="M739.8,411.4L740.6,413.0L740.9,416.1L742.6,417.1L741.8,419.7L744.5,420.5L747.0,420.0L743.6,423.4L740.9,424.2L739.4,426.0L735.1,429.1L732.6,430.1L732.0,429.4L735.0,426.8L734.7,423.9L736.7,422.9L739.5,419.0L739.8,416.9L739.3,414.0Z"/>
<path clip-rule="evenodd" d="M729.3,427.3L731.3,428.3L730.5,430.4L725.8,433.8L723.3,435.8L718.9,437.1L714.0,441.2L709.9,443.0L707.8,443.0L705.4,441.5L707.5,439.4L713.3,436.4L720.1,433.5L724.8,430.7Z"/>
</clipPath></defs>
<g clip-path="url(#land)">
<rect x="0" y="100" width="850" height="380" fill="url(#hatch)"/>
<path fill="#cc4c02" stroke="#333" stroke-width="0.45" stroke-opacity="0.55" stroke-linejoin="round" d="M103.0,165.6L107.2,161.7L111.4,157.7L115.8,153.9L120.2,150.1L124.7,146.3L129.3,142.7L134.0,139.1L138.9,137.4L143.8,135.7L148.8,134.0L153.7,132.4L158.7,130.8L163.6,129.2L168.6,127.6L173.5,126.1L178.3,124.6L183.0,123.1L186.1,122.6L189.2,122.1L192.2,121.7L195.2,121.2L198.2,120.7L201.1,120.3L204.0,119.8L206.9,119.4L209.8,118.9L212.7,118.5L215.5,118.1L218.3,117.6L221.1,117.2L223.8,116.8L226.5,116.4L229.2,116.1L231.3,116.1L233.3,116.1L235.4,116.1L237.4,116.1L239.5,116.1L241.5,116.1L243.6,116.1L245.6,116.1L247.7,116.1L249.7,116.1L251.8,116.1L253.8,116.1L255.9,116.1L257.9,116.1L260.0,116.1L262.0,116.1L264.1,116.1L266.1,116.1L268.2,116.1L270.3,116.1L272.3,116.1L274.4,116.1L276.4,116.1L278.5,116.1L280.5,116.1L282.6,116.1L282.9,118.2L283.2,120.6L283.6,123.1L282.1,126.0L280.6,128.9L279.2,132.0L278.0,135.2L276.9,138.4L275.8,141.7L274.9,145.1L274.0,148.5L273.2,152.0L272.4,155.5L271.6,159.1L270.9,162.7L270.3,166.3L269.0,170.0L267.7,173.6L266.5,177.3L265.2,181.0L264.1,184.7L263.0,188.5L261.9,192.3L260.9,196.1L259.9,200.0L259.0,203.8L255.1,205.5L251.2,207.2L247.3,209.0L243.3,210.7L239.4,212.4L235.4,214.1L232.6,212.6L229.9,211.0L227.2,209.5L224.5,207.9L221.9,206.4L222.7,202.0L223.9,198.4L221.3,197.7L219.0,199.4L214.4,203.8L211.1,203.8L207.8,203.8L203.7,205.9L197.0,207.7L196.8,209.5L192.6,210.9L188.4,212.3L187.7,210.8L189.6,209.0L192.4,202.5L189.1,200.0L186.2,198.7L183.2,197.4L180.4,196.1L177.0,195.3L173.6,194.4L170.3,193.6L167.1,193.6L164.0,193.6L160.9,193.6L157.8,193.6L154.7,193.6L151.5,193.6L148.4,193.6L145.3,193.6L142.2,193.6L139.1,193.6L135.9,193.6L132.8,193.6L129.7,193.6L126.6,193.6L123.5,193.6L120.3,193.6L117.2,193.6L114.1,193.6L112.4,195.6L109.3,195.4L106.3,194.6L103.4,193.9L100.4,193.2L97.5,192.5L94.6,191.8L91.7,191.0L97.7,187.1L103.7,183.2L109.9,179.3L111.6,178.5L113.5,176.3L111.6,174.6L112.4,170.2L112.0,166.8L106.8,168.3L106.0,166.3Z"/>
<path fill="url(#hatch)" stroke="#aaa" stroke-width="0.5" stroke-linejoin="round" d="M253.1,126.1L256.7,124.9L260.3,124.0L263.9,123.1L267.0,122.3L270.0,121.4L274.8,120.1L277.5,119.4L280.2,118.7L282.8,118.3L285.3,118.0L287.8,117.7L290.4,117.4L292.9,117.0L295.4,116.7L297.4,116.7L299.5,116.7L301.6,116.7L303.7,116.6L305.8,116.6L307.9,116.6L309.9,116.6L312.0,116.5L314.1,116.5L316.2,116.5L318.2,116.4L320.3,116.4L322.4,116.4L324.5,116.4L326.5,116.3L328.6,116.3L330.7,116.3L332.7,116.3L334.8,116.2L336.9,116.2L338.9,116.2L341.0,116.2L343.0,116.1L345.1,116.1L347.2,116.1L349.2,116.1L348.9,118.2L348.5,120.6L348.2,123.1L347.8,125.9L347.5,128.8L347.1,131.8L346.8,134.9L346.4,138.0L346.1,141.2L345.8,144.5L345.6,147.8L345.3,151.2L345.0,154.6L344.7,158.1L344.4,161.6L344.2,165.2L343.9,168.8L341.0,168.8L338.2,168.9L335.3,168.9L332.4,169.0L329.5,169.0L326.6,169.1L323.8,169.1L320.9,169.2L318.0,169.2L315.1,169.3L312.2,169.3L309.3,169.4L306.4,169.4L303.5,169.5L300.7,169.5L297.8,169.6L294.9,169.6L292.0,169.7L289.1,169.7L286.2,169.8L283.3,169.8L280.4,169.9L277.5,169.9L274.6,170.0L272.5,167.9L270.5,165.8L268.5,163.7L266.6,161.6L266.7,158.1L266.8,154.6L267.1,151.2L267.4,147.8L267.3,144.5L267.4,141.2L267.4,136.9L267.6,132.8L265.5,132.5L263.3,132.3L261.2,132.0L259.1,131.8L257.5,130.8L256.0,129.9L254.5,129.0Z"/>
<path fill="#662506" stroke="#333" stroke-width="0.45" stroke-opacity="0.55" stroke-linejoin="round" d="M94.9,201.2L99.7,199.3L104.5,197.3L109.3,195.4L112.4,195.6L114.1,193.6L117.2,193.6L120.3,193.6L123.5,193.6L126.6,193.6L129.7,193.6L132.8,193.6L135.9,193.6L139.1,193.6L142.2,193.6L145.3,193.6L148.4,193.6L151.5,193.6L154.7,193.6L157.8,193.6L160.9,193.6L164.0,193.6L167.1,193.6L170.3,193.6L173.6,194.4L177.0,195.3L180.4,196.1L183.2,197.4L186.2,198.7L189.1,200.0L192.4,202.5L189.6,209.0L187.7,210.8L188.4,212.3L192.6,210.9L196.8,209.5L197.0,207.7L203.7,205.9L207.8,203.8L211.1,203.8L214.4,203.8L219.0,199.4L221.3,197.7L223.9,198.4L222.7,202.0L223.6,204.3L221.9,206.4L220.4,210.3L219.0,214.1L217.6,218.0L216.3,221.9L212.1,226.3L207.9,230.6L203.7,234.9L199.5,239.2L195.4,243.5L191.4,247.8L187.4,252.2L183.4,256.5L180.1,257.8L175.5,258.2L171.0,258.6L167.6,257.9L164.3,257.3L161.0,256.7L157.6,256.1L154.3,255.5L151.0,254.8L147.7,254.2L144.4,253.6L140.4,252.3L140.1,249.4L138.8,247.6L137.4,243.4L135.2,243.4L133.3,245.5L130.4,243.9L127.6,238.2L123.9,238.2L123.5,239.5L117.3,239.5L113.6,237.9L110.0,236.3L110.4,235.8L104.9,236.3L98.1,237.6L96.1,233.4L94.3,229.3L92.7,225.1L91.2,220.9L89.9,216.7L91.0,212.8L92.2,209.0L93.5,205.1Z"/>
<path fill="#662506" stroke="#333" stroke-width="0.45" stroke-opacity="0.55" stroke-linejoin="round" d="M103.0,165.6L106.0,166.3L106.8,168.3L112.0,166.8L112.4,170.2L111.6,174.6L113.5,176.3L111.6,178.5L109.9,179.3L103.7,181.0L100.9,180.4L98.0,179.8L95.2,179.1L92.3,178.5L88.0,179.8L83.6,181.0L79.2,182.2L74.8,183.5L70.4,184.7L66.0,186.0L62.6,186.4L59.2,186.8L55.8,187.2L52.4,187.5L49.0,187.9L45.6,188.3L42.2,188.7L38.7,189.1L35.3,189.5L31.9,189.9L28.4,190.3L25.0,190.7L21.5,191.0L18.2,191.0L14.9,191.0L11.6,191.0L8.3,191.0L5.0,191.0L1.6,191.0L5.7,187.1L10.0,183.1L14.5,179.2L19.1,175.4L23.8,171.5L28.7,167.7L33.6,164.0L38.7,160.2L43.8,156.6L49.0,153.0L54.3,149.4L59.7,145.9L65.3,142.4L71.0,139.1L73.5,139.1L76.0,139.1L78.5,139.1L81.0,139.1L83.6,139.1L86.1,139.1L88.6,139.1L91.1,139.1L93.7,139.1L96.2,139.1L98.7,139.1L101.2,139.1L103.7,139.1L106.3,139.1L108.8,139.1L111.3,139.1L113.8,139.1L116.4,139.1L118.9,139.1L121.4,139.1L123.9,139.1L126.4,139.1L129.0,139.1L131.5,139.1L134.0,139.1L129.3,142.7L124.7,146.3L120.2,150.1L115.8,153.9L111.4,157.7L107.2,161.7Z"/>
<path fill="#662506" stroke="#333" stroke-width="0.45" stroke-opacity="0.55" stroke-linejoin="round" d="M-4.2,274.3L-0.2,274.3L3.8,274.3L7.8,274.3L11.7,274.3L12.7,269.9L13.7,265.5L14.8,261.2L10.8,261.2L6.9,261.2L2.9,261.2L-1.0,261.2L-2.1,265.5L-3.2,269.9Z"/>
<path fill="#812d06" stroke="#333" stroke-width="0.45" stroke-opacity="0.55" stroke-linejoin="round" d="M43.2,156.9L46.1,156.9L49.0,156.9L51.9,156.9L54.8,156.9L57.7,156.9L60.7,156.9L63.6,156.9L68.2,153.4L72.9,150.0L77.8,146.7L82.7,143.4L79.9,143.4L77.2,143.4L74.5,143.4L71.8,143.4L69.0,143.4L66.3,143.4L63.6,143.4L58.3,146.7L53.2,150.0L48.1,153.4Z"/>
<path fill="#812d06" stroke="#333" stroke-width="0.45" stroke-opacity="0.55" stroke-linejoin="round" d="M65.3,142.3L67.8,142.3L70.3,142.3L75.7,139.1L73.2,139.1L70.8,139.1Z"/>
<path fill="#ec7014" stroke="#333" stroke-width="0.45" stroke-opacity="0.55" stroke-linejoin="round" d="M104.9,236.3L110.4,235.8L110.0,236.3L113.6,237.9L117.3,239.5L123.5,239.5L123.9,238.2L127.6,238.2L130.4,243.9L133.3,245.5L135.2,243.4L137.4,243.4L138.8,247.6L140.1,249.4L140.4,252.3L144.4,253.6L147.5,256.1L150.7,258.6L154.2,259.4L157.7,260.1L161.2,260.9L164.7,261.7L168.2,262.5L167.0,267.1L165.8,271.7L161.6,273.0L159.4,274.8L154.1,276.1L156.0,279.2L153.0,279.2L152.1,281.3L151.4,283.4L147.6,285.8L143.8,288.1L140.0,290.5L136.2,292.8L132.5,295.2L129.1,293.2L125.7,291.2L122.4,289.2L119.0,287.1L115.7,285.1L112.5,283.1L109.2,281.1L106.0,279.1L102.8,277.1L99.6,275.1L96.4,273.1L93.3,271.0L90.1,269.0L90.8,265.1L91.6,261.2L92.4,257.3L93.3,253.3L94.3,249.4L95.4,245.5L96.7,241.6L98.1,237.6Z"/>
<path fill="#fee391" stroke="#333" stroke-width="0.45" stroke-opacity="0.55" stroke-linejoin="round" d="M151.4,283.4L152.1,281.3L153.0,279.2L156.0,279.2L154.1,276.1L159.4,274.8L158.7,279.8L160.9,280.3L158.5,281.9L157.9,283.7L156.0,285.5L153.8,287.4Z"/>
<path fill="#ffffe5" stroke="#333" stroke-width="0.45" stroke-opacity="0.55" stroke-linejoin="round" d="M165.6,292.3L167.8,292.6L170.1,292.8L172.4,296.2L171.5,300.4L166.7,300.4L163.5,295.2Z"/>
<path fill="#fff7bc" stroke="#333" stroke-width="0.45" stroke-opacity="0.55" stroke-linejoin="round" d="M171.5,300.4L172.4,296.2L176.2,295.2L180.8,295.2L184.3,298.6L182.9,302.5L181.5,304.4L175.8,303.1Z"/>
<path fill="#fec44f" stroke="#333" stroke-width="0.45" stroke-opacity="0.55" stroke-linejoin="round" d="M168.8,266.4L169.7,259.9L173.4,259.9L177.1,259.9L180.8,259.9L184.5,259.9L188.2,259.9L191.9,259.9L195.6,259.9L195.0,264.8L194.5,269.8L191.0,270.1L187.6,270.3L183.8,269.6L180.0,268.8L176.3,268.0L172.5,267.2Z"/>
<path fill="#fec44f" stroke="#333" stroke-width="0.45" stroke-opacity="0.55" stroke-linejoin="round" d="M199.7,269.3L199.2,274.3L199.5,275.6L203.5,275.6L207.5,275.6L208.2,269.0L204.0,269.2Z"/>
<path fill="#fff7bc" stroke="#333" stroke-width="0.45" stroke-opacity="0.55" stroke-linejoin="round" d="M183.7,274.8L189.4,274.8L189.6,272.4L183.9,272.4Z"/>
<path fill="url(#hatch)" stroke="#aaa" stroke-width="0.5" stroke-linejoin="round" d="M184.3,259.9L188.1,259.9L191.8,259.9L195.6,259.9L196.3,254.6L197.1,249.4L193.4,249.4L189.7,249.4L186.0,249.4L185.1,254.6Z"/>
<path fill="url(#hatch)" stroke="#aaa" stroke-width="0.5" stroke-linejoin="round" d="M219.9,295.5L222.6,295.5L222.8,292.6L220.0,292.6Z"/>
<path fill="#ffffe5" stroke="#333" stroke-width="0.45" stroke-opacity="0.55" stroke-linejoin="round" d="M201.4,344.9L204.9,344.9L208.5,344.9L212.1,344.9L215.7,344.9L219.3,344.9L222.9,344.9L226.4,344.9L230.0,344.9L233.6,344.9L233.8,349.0L234.0,353.1L234.2,357.1L234.4,361.2L234.7,365.3L235.1,369.3L235.4,373.4L235.7,377.5L236.1,381.6L232.6,381.6L229.1,381.6L225.5,381.6L222.0,381.6L218.5,381.6L215.0,381.6L211.5,381.6L208.0,381.6L204.5,381.6L204.0,377.5L203.6,373.4L203.2,369.3L202.8,365.3L202.4,361.2L202.1,357.1L201.8,353.1L201.6,349.0Z"/>
<path fill="#ffffe5" stroke="#333" stroke-width="0.45" stroke-opacity="0.55" stroke-linejoin="round" d="M221.0,379.5L221.4,376.3L222.2,373.7L226.2,371.9L228.2,371.9L230.4,373.2L230.7,374.2L231.8,371.1L235.9,372.4L240.0,373.7L240.7,377.9L241.6,382.1L242.4,386.3L243.3,390.4L244.2,394.6L240.3,394.6L236.4,394.6L232.5,394.6L228.6,394.6L224.6,389.4L220.6,384.2Z"/>
<path fill="#fe9929" stroke="#333" stroke-width="0.45" stroke-opacity="0.55" stroke-linejoin="round" d="M210.7,381.0L213.7,379.2L215.5,379.2L217.3,381.0L218.0,378.9L221.0,379.5L224.9,382.9L228.6,385.5L232.3,388.1L233.1,387.8L231.5,392.8L236.3,393.3L238.2,392.8L239.9,388.4L242.5,389.4L243.7,394.6L244.9,399.9L241.6,400.0L238.2,400.2L234.8,400.4L234.5,406.4L234.8,410.3L239.0,413.0L243.2,415.6L243.2,419.6L243.2,423.6L243.3,427.6L243.5,431.6L243.7,435.6L244.0,439.5L244.3,443.5L244.7,447.4L245.1,451.3L245.7,455.2L246.3,459.0L247.0,462.9L247.7,466.7L244.9,466.7L242.0,466.7L239.1,466.7L236.2,466.7L233.4,466.7L230.5,466.7L227.6,466.7L224.8,466.7L222.9,462.7L221.1,458.7L219.4,454.7L217.7,450.7L216.1,446.6L214.7,442.5L213.2,438.4L211.8,434.3L210.5,430.1L209.2,426.0L208.4,422.1L207.7,418.2L207.1,414.3L206.5,410.3L206.0,406.4L205.5,402.5L205.1,398.6L204.8,394.6L204.6,390.7L204.4,386.8L204.2,382.9L204.2,378.9Z"/>
<path fill="#fee391" stroke="#333" stroke-width="0.45" stroke-opacity="0.55" stroke-linejoin="round" d="M234.8,410.3L234.5,406.4L234.8,400.4L238.1,398.6L241.7,400.5L245.3,402.5L247.1,407.1L249.0,411.6L245.0,413.6L241.0,415.6L235.0,412.4Z"/>
<path fill="#ec7014" stroke="#333" stroke-width="0.45" stroke-opacity="0.55" stroke-linejoin="round" d="M202.3,369.4L204.1,367.2L205.4,369.0L205.9,371.1L206.9,372.4L206.4,373.7L208.1,377.1L208.9,378.9L210.7,381.0L210.8,383.4L208.7,385.2L209.0,392.0L207.4,395.9L207.5,401.2L208.5,406.4L208.8,410.3L209.3,415.6L209.3,419.5L210.1,424.7L211.4,431.2L212.9,436.4L214.9,441.5L214.7,445.3L214.5,449.2L216.6,453.0L219.1,455.5L220.4,456.7L226.3,457.2L227.6,458.2L230.0,464.0L235.4,464.7L237.3,469.1L234.4,469.1L231.4,469.1L228.5,469.1L225.5,469.1L222.6,469.1L219.6,469.1L216.7,469.1L213.7,469.1L210.8,469.1L208.8,465.4L206.9,461.7L205.0,458.0L203.2,454.2L201.5,450.4L199.9,446.6L198.3,442.8L196.8,438.9L195.4,435.1L193.9,431.2L192.6,427.3L191.3,423.4L190.1,419.5L188.9,415.6L187.9,411.6L186.9,407.7L185.9,403.8L185.0,399.9L184.2,395.9L183.5,392.0L182.8,388.1L182.2,384.2L181.7,380.2L181.2,376.3L180.8,372.4L180.3,368.5L184.0,368.6L187.6,368.8L191.3,368.9L195.0,369.1L198.6,369.2Z"/>
<path fill="#fec44f" stroke="#333" stroke-width="0.45" stroke-opacity="0.55" stroke-linejoin="round" d="M202.3,369.4L204.1,367.2L205.0,364.5L203.8,361.9L204.7,358.0L204.9,354.1L202.6,350.2L200.3,350.2L201.4,344.9L201.9,340.6L202.6,336.2L203.2,331.8L200.8,327.9L198.5,324.0L194.6,322.2L190.7,320.5L186.9,318.8L183.4,319.4L180.0,320.1L176.5,320.7L173.0,321.4L173.1,325.5L173.1,329.7L173.3,333.8L173.4,337.9L173.6,342.1L173.8,346.2L174.1,350.4L174.4,354.5L174.7,358.7L175.1,362.8L175.6,366.9L176.1,371.1L179.8,370.8L183.5,370.6L187.3,370.4L191.0,370.1L194.8,369.9L198.5,369.6Z"/>
<path fill="url(#hatch)" stroke="#aaa" stroke-width="0.5" stroke-linejoin="round" d="M177.1,330.3L177.4,332.6L179.2,333.4L180.8,332.9L181.7,330.5L184.7,329.0L187.9,325.6L188.8,323.7L188.3,321.9L183.7,320.3L180.4,317.7L178.9,314.8L173.0,318.8L173.0,324.0L173.1,329.2Z"/>
<path fill="#fe9929" stroke="#333" stroke-width="0.45" stroke-opacity="0.55" stroke-linejoin="round" d="M180.4,317.7L183.7,320.3L188.3,321.9L192.7,324.8L196.2,327.6L200.8,328.4L200.7,332.1L201.2,332.4L203.2,333.1L205.5,329.2L207.7,325.3L210.0,321.4L210.0,317.4L210.1,313.5L210.2,309.6L210.3,305.7L207.3,301.2L204.3,296.8L201.4,292.3L198.5,287.9L194.6,289.7L190.8,291.5L186.9,293.4L183.1,295.2L184.3,298.6L182.9,302.5L177.9,308.3L179.1,313.0Z"/>
<path fill="#fee391" stroke="#333" stroke-width="0.45" stroke-opacity="0.55" stroke-linejoin="round" d="M199.3,289.2L198.8,290.5L195.9,292.6L194.5,296.5L195.7,300.4L196.5,303.1L200.9,303.1L202.4,305.4L206.8,305.1L206.0,309.6L207.0,316.1L207.9,318.2L214.6,318.8L218.1,316.8L221.6,314.8L225.1,312.9L228.6,310.9L228.7,306.1L228.9,301.3L229.0,296.5L225.3,294.8L221.5,293.0L217.8,291.3L213.8,290.3L209.9,289.3L205.9,288.3L202.0,287.4Z"/>
<path fill="#ffffe5" stroke="#333" stroke-width="0.45" stroke-opacity="0.55" stroke-linejoin="round" d="M224.3,299.1L222.9,302.0L221.4,303.8L220.9,305.9L222.5,307.8L223.3,312.2L223.9,317.4L229.7,317.4L232.0,313.5L232.7,308.3L233.4,303.1L230.1,300.4L226.7,297.8Z"/>
<path fill="url(#hatch)" stroke="#aaa" stroke-width="0.5" stroke-linejoin="round" d="M230.8,305.8L230.3,308.3L228.9,310.4L228.6,312.2L229.5,315.6L232.0,316.4L235.5,317.4L240.1,316.1L240.1,311.8L240.2,307.4L240.3,303.1L235.6,304.4Z"/>
<path fill="url(#hatch)" stroke="#aaa" stroke-width="0.5" stroke-linejoin="round" d="M238.0,306.2L237.2,309.1L236.9,311.4L237.8,313.5L237.6,315.6L242.4,318.8L247.1,313.5L246.0,309.6L244.9,305.7L241.4,305.9Z"/>
<path fill="#ec7014" stroke="#333" stroke-width="0.45" stroke-opacity="0.55" stroke-linejoin="round" d="M243.4,310.4L241.3,315.3L237.8,315.6L233.4,316.4L232.0,316.4L228.5,317.4L224.6,316.7L224.2,314.3L224.0,309.6L222.5,307.8L220.8,309.6L217.5,310.9L214.8,310.9L212.9,310.4L214.7,316.1L211.2,319.5L207.9,318.2L207.0,316.1L201.9,318.5L201.0,321.4L201.9,324.0L201.5,328.2L201.2,332.4L196.4,334.5L194.2,338.4L192.2,340.7L194.7,344.9L200.3,346.2L200.3,350.2L203.9,350.2L205.1,350.2L210.0,347.0L212.4,349.9L213.3,352.8L216.8,354.3L220.6,356.7L223.9,357.5L224.6,360.9L229.4,364.0L229.4,366.6L230.9,368.5L232.0,373.7L230.9,374.2L231.6,379.2L236.4,379.7L237.7,384.2L239.6,385.2L239.9,388.4L241.5,388.4L242.3,389.9L242.2,392.3L238.4,394.6L237.8,396.2L234.8,400.4L238.7,402.2L239.8,402.2L243.2,404.3L245.1,406.7L245.6,409.6L249.8,412.6L254.0,415.6L255.9,411.6L257.9,407.6L259.9,403.6L262.0,399.6L264.2,395.6L266.4,391.6L268.7,387.6L271.0,383.6L273.4,379.5L275.8,375.5L278.3,371.5L280.8,367.5L283.3,363.5L285.8,359.5L288.3,355.5L290.9,351.5L293.5,347.5L290.0,344.4L286.5,341.3L283.0,338.1L279.5,335.0L276.0,331.8L272.5,328.7L269.0,325.6L265.5,322.4L262.0,319.3L258.6,316.1L254.8,313.5L250.9,310.9L247.1,308.3Z"/>
<path fill="#fe9929" stroke="#333" stroke-width="0.45" stroke-opacity="0.55" stroke-linejoin="round" d="M357.8,229.5L358.6,231.6L359.9,237.4L354.6,238.4L354.6,241.6L350.3,242.9L347.0,244.2L343.2,246.3L343.1,248.9L339.8,248.9L336.4,248.9L333.1,248.9L329.2,249.3L325.4,249.8L321.6,250.3L317.8,250.7L321.7,246.4L325.6,242.0L329.5,237.6L333.3,233.3L337.2,228.9L340.9,224.6L344.5,224.6L348.1,224.6L351.7,224.6Z"/>
<path fill="#fec44f" stroke="#333" stroke-width="0.45" stroke-opacity="0.55" stroke-linejoin="round" d="M357.8,229.5L358.6,231.6L359.9,237.4L354.6,238.4L354.6,241.6L350.3,242.9L347.0,244.2L343.2,246.3L343.1,249.9L347.4,252.9L351.8,256.0L355.1,258.6L358.5,261.2L361.9,263.8L365.3,266.4L368.0,268.8L370.1,271.4L372.1,271.1L375.7,270.6L379.6,266.7L384.5,263.3L389.4,259.9L385.5,256.5L383.8,252.3L384.4,245.5L384.7,242.3L383.6,242.1L382.6,237.4L380.8,236.3L379.0,232.9L380.7,230.8L380.6,227.2L381.1,224.8L379.8,221.9L376.2,222.4L372.6,222.8L369.0,223.3L365.4,223.7L361.8,224.1L358.2,224.6Z"/>
<path fill="#fec44f" stroke="#333" stroke-width="0.45" stroke-opacity="0.55" stroke-linejoin="round" d="M418.0,238.7L418.2,242.9L418.4,247.1L418.6,251.2L418.8,255.4L419.0,259.6L419.1,263.8L422.7,263.8L426.2,263.8L429.8,263.8L433.4,263.8L437.6,263.8L441.8,263.8L446.0,263.8L448.5,263.8L447.2,259.9L445.8,256.0L444.4,252.0L442.9,248.1L440.1,244.2L438.1,239.5L433.3,237.2L428.4,235.0L425.0,236.2L421.5,237.5Z"/>
<path fill="#fff7bc" stroke="#333" stroke-width="0.45" stroke-opacity="0.55" stroke-linejoin="round" d="M372.1,271.1L372.1,278.5L370.6,281.1L365.5,281.3L363.0,282.4L363.7,286.3L365.1,287.4L367.6,288.4L367.8,290.2L370.8,290.8L372.0,286.0L376.3,285.5L380.4,286.6L383.2,287.9L387.1,286.3L390.8,287.1L393.7,285.5L394.6,282.1L398.0,279.5L397.9,274.3L397.7,269.0L397.1,265.1L396.4,261.2L394.2,262.0L389.4,259.9L384.5,263.3L379.6,266.7L375.7,270.6Z"/>
<path fill="#fee391" stroke="#333" stroke-width="0.45" stroke-opacity="0.55" stroke-linejoin="round" d="M368.8,305.7L368.8,301.0L370.8,295.5L370.8,290.8L372.0,286.0L376.3,285.5L380.4,286.6L383.2,287.9L387.1,286.3L390.8,287.1L393.7,285.5L395.1,287.6L395.8,290.0L393.8,294.7L392.0,298.6L390.0,302.8L388.2,304.4L385.1,303.6L383.3,307.0L382.2,310.1L378.1,311.8L374.1,313.5L371.4,309.6Z"/>
<path fill="#ffffe5" stroke="#333" stroke-width="0.45" stroke-opacity="0.55" stroke-linejoin="round" d="M366.2,305.7L366.2,303.1L366.2,297.8L364.4,292.8L365.8,291.5L367.8,290.2L370.8,290.8L370.8,295.5L368.8,301.0L368.8,305.7Z"/>
<path fill="#fff7bc" stroke="#333" stroke-width="0.45" stroke-opacity="0.55" stroke-linejoin="round" d="M324.9,279.2L328.3,277.9L331.7,279.0L334.6,282.6L336.2,286.0L334.8,288.9L331.1,288.1L327.7,288.6L324.2,289.1L321.3,287.4L321.3,283.4L321.4,279.5Z"/>
<path fill="url(#hatch)" stroke="#aaa" stroke-width="0.5" stroke-linejoin="round" d="M323.6,287.0L327.0,286.6L329.3,286.7L330.9,286.3L330.9,285.8L329.3,285.9L327.0,285.8L323.6,285.8Z"/>
<path fill="#fff7bc" stroke="#333" stroke-width="0.45" stroke-opacity="0.55" stroke-linejoin="round" d="M445.9,283.9L449.3,282.4L453.0,283.4L455.3,284.2L458.2,287.4L459.9,288.7L458.6,291.0L461.2,292.6L463.9,297.8L468.4,299.1L472.9,300.4L469.7,304.4L466.4,308.3L464.1,308.5L459.5,310.4L459.3,311.0L456.8,310.1L453.8,312.2L450.3,311.9L445.7,309.6L445.2,308.3L442.6,304.1L438.6,300.4L441.1,298.9L441.0,295.2L441.4,293.6L443.0,291.3L445.6,288.1Z"/>
<path fill="#fee391" stroke="#333" stroke-width="0.45" stroke-opacity="0.55" stroke-linejoin="round" d="M458.4,325.8L457.3,323.7L457.3,318.9L457.3,314.0L459.3,311.0L456.8,310.1L453.8,312.2L450.3,311.9L445.7,309.6L444.5,308.3L442.0,309.3L441.1,310.4L443.4,316.1L441.1,320.8L440.9,324.0L445.2,326.6L449.4,329.2L453.0,333.7L459.5,331.8Z"/>
<path fill="#ffffe5" stroke="#333" stroke-width="0.45" stroke-opacity="0.55" stroke-linejoin="round" d="M433.9,312.2L436.5,311.9L439.9,311.4L441.1,310.4L443.4,316.1L441.1,320.8L440.9,324.0L437.0,324.1L433.0,324.2L431.0,325.0L431.7,320.1L433.3,317.4L434.6,315.3L433.2,315.1Z"/>
<path fill="#fff7bc" stroke="#333" stroke-width="0.45" stroke-opacity="0.55" stroke-linejoin="round" d="M440.9,324.0L445.2,326.6L449.4,329.2L453.0,333.7L457.1,337.1L457.1,341.0L457.0,344.9L456.8,348.8L455.5,348.8L448.7,351.7L442.1,351.5L441.8,351.5L438.3,346.0L433.5,343.1L432.4,339.7L430.4,333.1L433.2,330.0L433.0,327.6L433.7,327.6L433.0,324.2L437.0,324.1Z"/>
<path fill="#fee391" stroke="#333" stroke-width="0.45" stroke-opacity="0.55" stroke-linejoin="round" d="M390.2,337.3L392.5,336.8L396.4,336.8L400.2,336.8L400.8,339.7L402.9,342.3L406.3,342.3L407.3,339.7L409.8,339.7L412.8,340.5L412.7,346.2L413.8,350.2L417.5,350.2L417.7,349.9L420.7,350.7L422.3,352.5L425.0,351.7L427.7,354.1L430.2,355.9L431.0,353.3L428.1,350.2L428.7,343.6L433.5,343.1L432.4,339.7L430.4,333.1L429.5,328.7L431.0,325.0L431.7,320.1L433.3,317.4L434.6,315.3L433.2,315.1L433.9,312.2L429.5,309.9L425.8,308.0L422.6,308.3L419.1,308.3L414.5,310.4L409.9,309.9L406.4,308.3L405.3,312.2L404.5,316.8L403.7,321.4L400.7,326.6L399.5,330.5L397.9,332.6L394.9,333.4L392.6,333.4L391.6,334.5L390.7,336.3Z"/>
<path fill="#fec44f" stroke="#333" stroke-width="0.45" stroke-opacity="0.55" stroke-linejoin="round" d="M417.7,349.9L417.6,355.4L413.0,355.4L412.9,359.6L412.8,363.8L415.9,367.4L420.2,367.9L424.1,368.2L428.6,363.2L432.1,362.2L431.7,360.4L438.0,357.5L438.8,354.1L439.1,349.6L438.3,346.0L433.5,343.1L428.7,343.6L428.1,350.2L431.0,353.3L430.2,355.9L427.7,354.1L425.0,351.7L422.3,352.5L420.7,350.7Z"/>
<path fill="#fff7bc" stroke="#333" stroke-width="0.45" stroke-opacity="0.55" stroke-linejoin="round" d="M438.3,346.0L439.1,349.6L438.8,354.1L438.0,357.5L441.6,359.3L443.1,366.1L444.6,363.2L444.5,359.3L443.3,355.4L442.1,351.5L440.8,346.2Z"/>
<path fill="#fee391" stroke="#333" stroke-width="0.45" stroke-opacity="0.55" stroke-linejoin="round" d="M432.1,362.2L431.7,360.4L438.0,357.5L441.6,359.3L443.1,366.1L444.6,363.2L444.5,359.3L443.3,355.4L442.1,351.5L448.7,351.7L455.5,348.8L459.2,347.5L459.0,351.6L458.9,355.6L458.7,359.7L458.5,363.7L458.3,367.8L458.0,371.8L457.8,375.8L457.5,379.9L457.2,383.9L456.9,388.0L456.6,392.0L453.2,392.0L449.8,391.9L446.4,391.9L443.0,391.8L439.6,391.8L436.2,391.8L434.4,389.1L434.6,385.5L433.3,380.0L436.2,376.3L437.4,369.8L437.9,364.3Z"/>
<path fill="#fe9929" stroke="#333" stroke-width="0.45" stroke-opacity="0.55" stroke-linejoin="round" d="M420.2,367.9L424.1,368.2L428.6,363.2L432.1,362.2L437.9,364.3L437.4,369.8L436.2,376.3L433.3,380.0L429.1,379.2L426.0,377.6L424.5,375.0L421.7,370.6Z"/>
<path fill="#fec44f" stroke="#333" stroke-width="0.45" stroke-opacity="0.55" stroke-linejoin="round" d="M420.2,367.9L421.7,370.6L424.5,375.0L426.0,377.6L429.1,379.2L425.8,380.5L423.2,384.2L419.8,388.4L415.4,387.6L413.0,389.4L408.5,391.5L407.6,386.3L407.8,378.9L409.8,378.9L410.1,374.1L410.4,369.3L415.6,368.5L415.9,367.4Z"/>
<path fill="#ffffe5" stroke="#333" stroke-width="0.45" stroke-opacity="0.55" stroke-linejoin="round" d="M387.6,366.6L393.4,365.9L397.1,366.2L400.9,366.5L404.7,366.9L409.9,368.5L415.9,367.4L420.2,367.9L415.6,368.5L410.4,369.3L410.1,374.1L409.8,378.9L407.8,378.9L407.6,386.3L407.4,391.0L407.1,395.7L402.6,397.0L399.3,396.2L393.6,399.9L392.3,395.5L390.9,391.1L389.5,386.8L388.1,382.4L386.7,378.1L385.3,373.7Z"/>
<path fill="#993404" stroke="#333" stroke-width="0.45" stroke-opacity="0.55" stroke-linejoin="round" d="M399.3,396.2L402.6,397.0L407.1,395.7L407.4,391.0L407.6,386.3L408.5,391.5L413.0,389.4L415.4,387.6L419.8,388.4L423.2,384.2L425.8,380.5L429.1,379.2L433.3,380.0L434.6,385.5L434.4,389.1L436.2,391.8L438.4,394.6L436.3,398.8L434.2,403.0L432.0,407.2L429.8,411.4L427.7,415.6L424.4,415.6L421.1,415.6L417.9,415.6L414.6,415.6L411.4,415.6L408.1,415.6L404.9,415.6L401.6,415.6L400.2,411.6L398.8,407.7L397.3,403.8L395.8,399.9Z"/>
<path fill="#fff7bc" stroke="#333" stroke-width="0.45" stroke-opacity="0.55" stroke-linejoin="round" d="M422.5,399.1L423.8,397.0L426.3,396.2L427.9,398.0L426.9,400.1L424.6,401.4L423.3,400.7Z"/>
<path fill="#fee391" stroke="#333" stroke-width="0.45" stroke-opacity="0.55" stroke-linejoin="round" d="M431.5,391.5L432.8,388.9L434.4,389.4L434.4,391.5L433.2,392.8L431.9,392.5Z"/>
<path fill="#fff7bc" stroke="#333" stroke-width="0.45" stroke-opacity="0.55" stroke-linejoin="round" d="M459.1,350.2L462.9,350.2L466.8,350.2L470.6,350.2L474.4,350.2L478.3,350.2L482.1,350.2L481.9,354.3L481.7,358.5L481.4,362.7L481.1,366.9L480.8,371.1L480.5,375.3L480.2,379.5L479.8,383.6L479.4,387.8L478.9,392.0L475.2,392.0L471.5,392.0L467.7,392.0L464.0,392.0L460.3,392.0L456.6,392.0L456.9,387.8L457.2,383.6L457.5,379.5L457.8,375.3L458.1,371.1L458.3,366.9L458.6,362.7L458.8,358.5L458.9,354.3Z"/>
<path fill="#812d06" stroke="#333" stroke-width="0.45" stroke-opacity="0.55" stroke-linejoin="round" d="M405.2,216.7L404.8,212.8L404.5,208.9L404.1,205.0L403.7,201.1L403.3,197.2L402.9,193.3L402.5,189.5L402.0,185.7L401.6,181.9L401.1,178.1L400.6,174.4L400.1,170.7L399.6,167.0L399.0,163.4L398.5,159.8L397.9,156.3L397.4,152.8L396.8,149.3L396.2,145.9L395.6,142.6L395.0,139.4L394.4,136.1L393.7,133.0L393.0,129.9L392.3,127.0L391.5,124.1L390.8,121.5L390.1,119.0L389.4,116.7L391.5,116.7L393.5,116.7L395.5,116.7L397.5,116.7L399.6,116.7L401.6,116.7L403.6,116.7L405.7,116.7L407.7,116.7L409.7,116.7L411.7,116.7L413.8,116.7L415.8,116.7L417.8,116.7L419.9,116.7L421.9,116.7L423.9,116.7L425.9,116.7L428.0,116.7L430.0,116.7L432.0,116.7L434.1,116.7L436.1,116.7L438.1,116.7L440.1,116.7L442.2,116.7L444.2,116.7L446.2,116.7L448.3,116.7L450.3,116.7L452.3,116.7L454.3,116.7L456.4,116.7L458.4,116.7L460.4,116.7L462.5,116.7L464.5,116.7L466.5,116.7L468.5,116.7L470.6,116.7L472.6,116.7L474.6,116.7L476.7,116.7L478.7,116.7L480.7,116.7L482.7,116.7L484.8,116.7L486.8,116.7L488.8,116.7L490.9,116.7L492.9,116.7L494.9,116.7L496.9,116.7L499.0,116.7L501.0,116.7L503.0,116.7L505.1,116.7L507.1,116.7L509.1,116.7L511.1,116.7L513.2,116.7L515.2,116.7L517.2,116.7L519.3,116.7L521.3,116.7L523.3,116.7L525.3,116.7L527.4,116.7L529.4,116.7L531.4,116.7L533.5,116.7L535.5,116.7L537.5,116.7L539.5,116.7L541.6,116.7L543.6,116.7L545.6,116.7L547.7,116.7L549.7,116.7L551.7,116.7L553.8,116.7L555.8,116.7L557.8,116.7L559.8,116.7L561.9,116.7L563.9,116.7L565.9,116.7L568.0,116.7L570.0,116.7L572.0,116.7L574.0,116.7L576.1,116.7L578.1,116.7L580.1,116.7L582.2,116.7L584.2,116.7L586.2,116.7L588.2,116.7L590.3,116.7L592.3,116.7L594.3,116.7L596.4,116.7L598.4,116.7L600.4,116.7L602.4,116.7L604.5,116.7L610.6,119.0L616.9,121.5L623.5,124.1L630.1,127.0L636.7,129.9L643.1,133.0L649.1,136.1L654.8,139.4L660.3,142.6L665.6,145.9L670.9,149.3L676.0,152.8L681.0,156.3L686.0,159.8L690.9,163.4L695.7,167.0L700.4,170.7L705.0,174.4L709.5,178.1L713.8,181.9L718.0,185.7L722.1,189.5L725.9,193.3L729.5,197.2L733.0,201.1L736.4,205.0L739.7,208.9L742.9,212.8L746.0,216.7L742.8,216.7L739.6,216.7L736.3,216.7L733.1,216.7L729.9,216.7L726.7,216.7L723.5,216.7L720.3,216.7L717.1,216.7L713.8,216.7L710.6,216.7L707.4,216.7L704.2,216.7L701.0,216.7L697.8,216.7L694.5,216.7L691.3,216.7L688.1,216.7L684.9,216.7L681.7,216.7L678.5,216.7L675.3,216.7L672.0,216.7L668.8,216.7L665.6,216.7L662.4,216.7L659.2,216.7L656.0,216.7L652.7,216.7L649.5,216.7L646.3,216.7L643.1,216.7L639.9,216.7L636.7,216.7L633.5,216.7L630.2,216.7L627.0,216.7L623.8,216.7L620.6,216.7L617.4,216.7L614.2,216.7L610.9,216.7L607.7,216.7L604.5,216.7L601.3,216.7L598.1,216.7L594.9,216.7L591.7,216.7L588.4,216.7L585.2,216.7L582.0,216.7L578.8,216.7L575.6,216.7L572.4,216.7L569.1,216.7L565.9,216.7L562.7,216.7L559.5,216.7L556.3,216.7L553.1,216.7L549.9,216.7L546.6,216.7L543.4,216.7L540.2,216.7L537.0,216.7L533.8,216.7L530.6,216.7L527.3,216.7L524.1,216.7L520.9,216.7L517.7,216.7L514.5,216.7L511.3,216.7L508.0,216.7L504.8,216.7L501.6,216.7L498.4,216.7L495.2,216.7L492.0,216.7L488.8,216.7L485.5,216.7L482.3,216.7L479.1,216.7L475.9,216.7L472.7,216.7L469.5,216.7L466.2,216.7L463.0,216.7L459.8,216.7L456.6,216.7L453.4,216.7L450.2,216.7L447.0,216.7L443.7,216.7L440.5,216.7L437.3,216.7L434.1,216.7L430.9,216.7L427.7,216.7L424.4,216.7L421.2,216.7L418.0,216.7L414.8,216.7L411.6,216.7L408.4,216.7Z"/>
<path fill="#812d06" stroke="#333" stroke-width="0.45" stroke-opacity="0.55" stroke-linejoin="round" d="M400.6,180.0L403.7,180.0L406.8,180.0L405.0,178.5L403.6,178.0L401.0,177.3L399.2,178.5Z"/>
<path fill="#fe9929" stroke="#333" stroke-width="0.45" stroke-opacity="0.55" stroke-linejoin="round" d="M411.1,145.6L409.4,143.6L407.1,143.6L405.5,144.5L402.1,146.0L399.6,145.8L397.1,145.3L393.1,146.7L390.6,148.9L388.8,152.1L386.8,154.8L384.3,158.1L384.8,160.9L385.5,162.8L385.1,165.2L384.4,166.8L383.8,168.8L383.4,169.0L381.4,172.4L378.6,172.1L375.7,171.8L372.9,171.5L370.1,171.2L370.0,167.3L369.8,163.5L369.7,159.7L369.6,156.0L369.5,152.3L372.2,150.7L374.8,149.1L377.3,147.5L379.9,145.9L382.3,144.3L384.8,142.7L387.2,141.2L389.7,140.9L392.2,140.6L394.7,140.3L397.2,140.0L399.7,139.7L402.2,139.4L404.7,139.1L407.9,140.1L411.2,141.2L414.6,142.3L412.6,144.0Z"/>
<path fill="#fe9929" stroke="#333" stroke-width="0.45" stroke-opacity="0.55" stroke-linejoin="round" d="M374.8,130.8L377.2,130.8L379.6,130.8L382.0,130.8L384.4,130.8L386.9,130.8L389.3,130.8L391.7,130.8L394.1,130.8L396.5,130.8L398.9,130.8L401.3,130.8L403.7,130.8L406.1,130.8L408.5,130.8L407.3,127.5L406.1,124.3L404.9,121.4L402.7,121.4L400.5,121.4L398.3,121.4L396.0,121.4L393.8,121.4L391.6,121.4L389.4,121.4L387.2,121.4L384.9,121.4L382.7,121.4L380.5,121.4L378.3,121.4L376.1,121.4L373.8,121.4L374.2,124.3L374.5,127.5Z"/>
<path fill="#ec7014" stroke="#333" stroke-width="0.45" stroke-opacity="0.55" stroke-linejoin="round" d="M404.7,152.8L403.5,151.2L403.2,148.0L400.2,146.7L397.1,145.3L393.1,146.7L390.6,148.9L388.8,152.1L386.8,154.8L384.3,158.1L384.8,160.9L385.5,162.8L385.1,165.2L384.4,166.8L383.8,168.8L383.4,169.0L383.4,173.6L386.7,178.5L390.5,178.5L395.1,176.1L399.4,172.4L398.5,166.3L400.3,162.8L402.0,159.2L404.1,156.3L406.2,153.4Z"/>
<path fill="#ec7014" stroke="#333" stroke-width="0.45" stroke-opacity="0.55" stroke-linejoin="round" d="M404.7,152.8L403.5,151.2L403.2,148.0L400.2,146.7L397.1,145.3L399.6,145.8L402.1,146.0L405.5,144.5L407.1,143.6L409.4,143.6L411.1,145.6L411.2,147.3L413.7,148.5L413.1,152.1L415.7,155.7L416.9,158.1L419.1,159.5L416.4,163.5L413.6,165.2L408.9,167.6L405.2,167.6L401.5,167.6L397.5,165.2L398.7,161.0L399.8,156.9L403.1,155.5L406.4,154.1Z"/>
<path fill="#ec7014" stroke="#333" stroke-width="0.45" stroke-opacity="0.55" stroke-linejoin="round" d="M414.5,167.6L414.3,171.2L414.8,172.1L414.3,172.4L412.6,172.1L410.5,171.4L408.3,171.4L406.7,171.2L402.0,171.2L402.4,167.6L405.6,166.9L408.7,166.3L411.5,166.6L414.3,166.8Z"/>
<path fill="#fec44f" stroke="#333" stroke-width="0.45" stroke-opacity="0.55" stroke-linejoin="round" d="M408.3,171.4L410.5,171.4L412.6,172.1L414.3,172.4L414.8,172.1L416.4,175.6L415.8,176.6L413.6,176.8L411.3,175.6L408.4,175.3L404.5,175.1L402.9,175.8L401.6,174.8L402.0,171.2L406.7,171.2Z"/>
<path fill="#fec44f" stroke="#333" stroke-width="0.45" stroke-opacity="0.55" stroke-linejoin="round" d="M402.9,175.8L404.5,175.1L408.4,175.3L411.3,175.6L413.6,176.8L412.4,178.8L412.1,180.3L410.3,181.3L408.3,181.3L406.8,180.0L405.0,178.5L403.6,178.0L402.0,177.3Z"/>
<path fill="#fe9929" stroke="#333" stroke-width="0.45" stroke-opacity="0.55" stroke-linejoin="round" d="M409.4,187.3L408.3,185.2L409.4,183.5L408.3,181.3L410.3,181.3L412.1,180.3L412.4,178.8L413.6,176.8L415.8,176.6L416.4,175.6L421.9,177.0L424.4,181.0L424.9,183.5L425.4,185.7L423.2,187.8L419.1,187.0L416.1,187.0L412.0,186.2Z"/>
<path fill="#993404" stroke="#333" stroke-width="0.45" stroke-opacity="0.55" stroke-linejoin="round" d="M408.2,193.3L408.0,192.1L410.6,190.0L409.4,187.3L412.0,186.2L416.1,187.0L419.1,187.0L423.2,187.8L425.4,185.7L429.2,185.0L433.1,188.5L437.6,190.0L442.4,192.1L443.9,195.4L443.4,196.6L440.7,198.4L438.5,200.0L438.2,203.0L434.8,204.7L431.3,206.4L427.6,204.8L424.0,203.3L420.8,202.5L421.9,200.0L424.2,200.2L423.1,200.0L422.0,196.4L418.5,194.8L416.5,195.4L413.3,196.9L409.1,196.2L407.6,195.1Z"/>
<path fill="#993404" stroke="#333" stroke-width="0.45" stroke-opacity="0.55" stroke-linejoin="round" d="M390.2,181.3L391.3,184.5L391.5,186.5L392.0,188.8L395.1,189.3L396.4,190.0L398.6,190.8L400.6,192.3L402.9,193.1L408.2,193.3L408.0,192.1L410.6,190.0L409.4,187.3L408.3,185.2L409.4,183.5L408.3,181.3L406.8,180.0L403.7,180.0L400.6,180.0L397.1,177.3L393.4,178.5L389.7,179.8Z"/>
<path fill="#812d06" stroke="#333" stroke-width="0.45" stroke-opacity="0.55" stroke-linejoin="round" d="M379.2,178.8L381.5,179.0L383.8,179.3L386.8,179.5L389.7,179.8L390.2,181.3L391.3,184.5L391.5,186.5L392.0,188.8L389.5,189.3L386.8,190.3L387.9,192.3L390.5,194.6L388.5,195.4L389.1,197.4L387.4,196.9L384.0,197.4L382.1,197.4L380.9,196.9L378.0,197.1L379.1,193.6L375.6,192.3L374.8,190.8L375.4,190.3L374.5,189.0L374.9,188.5L374.4,186.5L376.4,185.5L376.6,182.7L376.2,181.0L378.0,178.0Z"/>
<path fill="#ec7014" stroke="#333" stroke-width="0.45" stroke-opacity="0.55" stroke-linejoin="round" d="M379.2,178.8L381.5,179.0L383.8,179.3L387.3,179.0L387.0,177.3L386.8,176.1L384.4,173.6L382.3,171.2L379.5,171.8L376.7,172.4L378.0,178.5Z"/>
<path fill="#cc4c02" stroke="#333" stroke-width="0.45" stroke-opacity="0.55" stroke-linejoin="round" d="M369.3,187.5L371.5,187.3L374.1,188.0L374.5,189.0L374.9,188.5L374.4,186.5L376.4,185.5L376.6,182.7L374.2,181.0L370.4,183.5L368.5,187.0Z"/>
<path fill="#cc4c02" stroke="#333" stroke-width="0.45" stroke-opacity="0.55" stroke-linejoin="round" d="M367.5,188.3L368.5,189.3L371.0,191.0L372.4,191.5L374.2,192.3L374.8,190.8L375.4,190.3L374.5,189.0L374.1,188.0L371.5,187.3L369.3,187.5L367.9,187.8Z"/>
<path fill="#fe9929" stroke="#333" stroke-width="0.45" stroke-opacity="0.55" stroke-linejoin="round" d="M374.2,192.3L375.6,192.3L375.4,191.0L374.8,190.7Z"/>
<path fill="#993404" stroke="#333" stroke-width="0.45" stroke-opacity="0.55" stroke-linejoin="round" d="M367.5,188.3L368.5,189.3L371.0,191.0L372.4,191.5L374.2,192.3L375.6,192.3L379.1,193.6L378.0,197.1L376.3,198.7L375.1,200.7L377.0,201.5L376.6,201.8L377.1,203.8L377.1,205.9L378.2,206.9L379.3,209.0L375.9,209.5L372.5,210.0L369.1,210.5L365.7,210.3L361.5,209.5L358.8,207.9L356.3,206.4L354.3,202.5L352.3,198.7L350.4,194.8L354.5,192.9L358.5,191.0L362.1,189.1L365.5,187.3Z"/>
<path fill="#993404" stroke="#333" stroke-width="0.45" stroke-opacity="0.55" stroke-linejoin="round" d="M380.3,213.4L382.9,213.4L382.7,208.7L380.1,208.7Z"/>
<path fill="#cc4c02" stroke="#333" stroke-width="0.45" stroke-opacity="0.55" stroke-linejoin="round" d="M358.8,207.9L361.5,209.5L365.7,210.3L369.1,210.5L369.9,211.6L366.3,216.1L362.6,220.6L358.2,225.9L354.3,226.6L350.4,227.3L346.6,224.0L346.4,223.3L346.9,221.4L347.5,219.9L347.0,218.3L347.6,217.8L347.9,214.1L348.6,211.8L345.3,211.3L343.8,211.8L341.7,207.7L345.2,207.2L348.6,206.8L352.1,206.4L355.5,207.2Z"/>
<path fill="#fe9929" stroke="#333" stroke-width="0.45" stroke-opacity="0.55" stroke-linejoin="round" d="M343.8,211.8L345.3,211.3L348.6,211.8L347.9,214.1L347.6,217.8L347.0,218.3L347.5,219.9L346.9,221.4L346.4,223.3L346.6,224.0L345.2,225.9L340.9,224.6L341.1,220.2L341.3,215.9L341.5,211.6Z"/>
<path fill="#fe9929" stroke="#333" stroke-width="0.45" stroke-opacity="0.55" stroke-linejoin="round" d="M375.1,200.7L376.3,198.7L378.0,197.1L380.9,196.9L382.1,197.4L384.1,198.9L383.3,200.5L381.1,201.5L379.8,200.7L377.0,201.5Z"/>
<path fill="#cc4c02" stroke="#333" stroke-width="0.45" stroke-opacity="0.55" stroke-linejoin="round" d="M378.2,206.9L377.1,205.9L377.1,203.8L376.6,201.8L377.0,201.5L379.8,200.7L381.1,201.5L383.3,200.5L384.1,198.9L387.5,198.4L390.7,200.0L390.3,201.2L390.6,202.3L389.5,203.8L391.9,209.0L395.6,211.6L399.3,214.1L403.0,216.7L400.1,220.6L397.1,224.6L393.5,224.6L389.9,224.6L386.3,224.6L387.2,220.6L388.1,216.7L383.7,212.8L379.3,209.0Z"/>
<path fill="#cc4c02" stroke="#333" stroke-width="0.45" stroke-opacity="0.55" stroke-linejoin="round" d="M379.7,219.9L384.0,219.9L383.7,213.4L379.5,213.4Z"/>
<path fill="#cc4c02" stroke="#333" stroke-width="0.45" stroke-opacity="0.55" stroke-linejoin="round" d="M388.5,225.9L392.6,225.9L396.8,225.9L396.5,220.6L392.4,220.6L388.3,220.6Z"/>
<path fill="#ec7014" stroke="#333" stroke-width="0.45" stroke-opacity="0.55" stroke-linejoin="round" d="M382.1,197.4L384.0,197.4L387.4,196.9L389.1,197.4L388.5,195.4L390.5,194.6L392.8,193.6L396.8,194.6L397.3,196.1L396.2,197.4L395.5,198.9L393.3,199.7L390.7,200.0L387.5,198.4L384.1,198.9Z"/>
<path fill="#cc4c02" stroke="#333" stroke-width="0.45" stroke-opacity="0.55" stroke-linejoin="round" d="M392.0,188.8L395.1,189.3L396.4,190.0L398.6,190.8L400.6,192.3L397.3,194.1L396.8,194.6L392.8,193.6L390.5,194.6L387.9,192.3L386.8,190.3L389.5,189.3Z"/>
<path fill="#ec7014" stroke="#333" stroke-width="0.45" stroke-opacity="0.55" stroke-linejoin="round" d="M400.6,192.3L402.9,193.1L408.2,193.3L407.6,195.1L406.1,194.8L403.2,195.6L400.8,196.6L397.3,196.1L396.8,194.6L397.3,194.1Z"/>
<path fill="#ec7014" stroke="#333" stroke-width="0.45" stroke-opacity="0.55" stroke-linejoin="round" d="M397.3,196.1L400.8,196.6L403.2,195.6L406.1,194.8L407.6,195.1L409.1,196.2L407.3,197.9L406.3,200.0L404.3,201.0L402.5,201.2L401.5,201.5L398.8,201.5L396.6,200.0L395.5,198.9L396.2,197.4Z"/>
<path fill="#fe9929" stroke="#333" stroke-width="0.45" stroke-opacity="0.55" stroke-linejoin="round" d="M390.7,200.0L393.3,199.7L395.5,198.9L396.6,200.0L394.8,200.7L394.1,201.8L392.7,202.3L390.6,202.5L390.3,201.2Z"/>
<path fill="#fee391" stroke="#333" stroke-width="0.45" stroke-opacity="0.55" stroke-linejoin="round" d="M390.6,202.5L392.7,202.3L394.1,201.8L394.8,200.7L396.6,200.0L398.8,201.5L401.5,201.5L402.7,203.3L401.9,203.8L397.5,203.3L395.2,203.3L396.3,205.9L398.9,207.9L401.4,210.3L398.3,210.3L394.9,207.7L391.6,205.1Z"/>
<path fill="#fe9929" stroke="#333" stroke-width="0.45" stroke-opacity="0.55" stroke-linejoin="round" d="M395.2,203.3L397.5,203.3L401.9,203.8L402.3,204.1L403.2,206.4L402.9,208.2L401.4,210.3L398.9,207.9L396.3,205.9Z"/>
<path fill="#ec7014" stroke="#333" stroke-width="0.45" stroke-opacity="0.55" stroke-linejoin="round" d="M402.5,201.2L404.3,201.0L406.3,200.0L407.0,203.3L409.7,205.1L409.4,207.7L410.7,210.8L407.8,211.0L405.7,210.8L404.8,210.0L403.6,208.4L402.9,208.2L403.2,206.4L402.3,204.1L401.9,203.8L402.7,203.3L401.5,201.5Z"/>
<path fill="#fee391" stroke="#333" stroke-width="0.45" stroke-opacity="0.55" stroke-linejoin="round" d="M401.4,210.3L402.9,208.2L403.6,208.4L404.8,210.0L403.7,210.0L403.5,211.8L401.5,211.0Z"/>
<path fill="#fee391" stroke="#333" stroke-width="0.45" stroke-opacity="0.55" stroke-linejoin="round" d="M404.8,210.0L405.7,211.3L407.2,211.0L408.2,210.3L406.7,208.4L405.5,209.0Z"/>
<path fill="#fee391" stroke="#333" stroke-width="0.45" stroke-opacity="0.55" stroke-linejoin="round" d="M403.5,211.8L403.7,210.0L404.8,210.0L405.7,211.3L406.0,214.1L407.1,214.4L406.4,216.5L405.2,217.5L403.0,216.7Z"/>
<path fill="#fe9929" stroke="#333" stroke-width="0.45" stroke-opacity="0.55" stroke-linejoin="round" d="M405.7,211.3L407.2,211.0L408.2,210.3L409.7,210.8L410.7,210.8L411.0,213.4L410.2,213.9L407.1,214.4L406.0,214.1Z"/>
<path fill="#ec7014" stroke="#333" stroke-width="0.45" stroke-opacity="0.55" stroke-linejoin="round" d="M405.2,217.5L406.4,216.5L407.1,214.4L410.2,213.9L411.0,213.4L414.3,212.8L417.7,212.3L418.8,213.4L418.2,215.2L419.3,219.3L421.3,223.3L423.3,227.2L419.8,227.2L416.4,227.2L412.9,227.2L409.4,227.2L406.0,227.2L404.5,222.6L403.1,218.0Z"/>
<path fill="#ec7014" stroke="#333" stroke-width="0.45" stroke-opacity="0.55" stroke-linejoin="round" d="M412.8,231.1L417.1,231.1L421.5,231.1L421.2,227.7L416.8,227.7L412.5,227.7Z"/>
<path fill="#ec7014" stroke="#333" stroke-width="0.45" stroke-opacity="0.55" stroke-linejoin="round" d="M411.0,213.4L414.3,212.8L417.7,212.3L420.5,211.6L421.8,211.6L422.3,207.2L418.8,206.1L415.8,207.4L412.6,207.2L409.8,205.9L409.4,207.7L410.7,210.8Z"/>
<path fill="#ec7014" stroke="#333" stroke-width="0.45" stroke-opacity="0.55" stroke-linejoin="round" d="M409.1,196.2L413.3,196.9L416.5,195.4L418.2,197.1L420.2,199.4L420.8,202.5L424.0,203.3L424.5,205.1L422.3,207.2L418.8,206.1L415.8,207.4L412.6,207.2L409.8,205.9L409.7,205.1L407.0,203.3L406.3,200.0L407.3,197.9Z"/>
<path fill="#fe9929" stroke="#333" stroke-width="0.45" stroke-opacity="0.55" stroke-linejoin="round" d="M416.5,195.4L418.5,194.8L422.0,196.4L423.1,200.0L424.2,200.2L421.9,200.0L420.8,202.5L420.2,199.4L418.2,197.1Z"/>
<path fill="#cc4c02" stroke="#333" stroke-width="0.45" stroke-opacity="0.55" stroke-linejoin="round" d="M417.7,212.3L420.5,211.6L421.8,211.6L423.8,212.8L426.9,212.3L430.0,211.8L433.1,211.3L436.2,210.8L439.7,211.3L443.2,211.8L446.7,212.3L450.3,212.8L453.0,212.6L454.7,213.9L455.6,216.5L458.1,217.5L457.7,220.9L459.3,224.0L454.1,224.3L449.1,225.1L444.7,225.1L441.7,225.1L441.1,227.2L440.5,227.4L436.4,227.7L432.1,228.1L427.8,228.5L424.4,226.7L420.9,225.0L417.5,223.3L417.9,219.2L418.2,215.2L418.8,213.4Z"/>
<path fill="#fee391" stroke="#333" stroke-width="0.45" stroke-opacity="0.55" stroke-linejoin="round" d="M446.0,207.9L450.4,208.2L454.5,209.5L457.1,210.0L460.4,211.8L461.0,213.6L457.8,213.6L454.7,213.9L453.0,212.6L450.3,212.8L446.6,210.3Z"/>
<path fill="#fff7bc" stroke="#333" stroke-width="0.45" stroke-opacity="0.55" stroke-linejoin="round" d="M454.7,213.9L457.8,213.6L459.4,215.2L460.8,218.0L462.1,219.6L458.1,217.5L455.6,216.5Z"/>
<path fill="#fff7bc" stroke="#333" stroke-width="0.45" stroke-opacity="0.55" stroke-linejoin="round" d="M460.4,211.8L465.1,212.1L468.8,215.4L468.5,219.3L467.5,220.9L466.0,219.6L465.0,217.8L462.1,219.6L460.8,218.0L459.4,215.2L457.8,213.6L461.0,213.6Z"/>
<path fill="url(#hatch)" stroke="#aaa" stroke-width="0.5" stroke-linejoin="round" d="M432.4,231.4L438.6,231.4L438.1,227.7L432.0,227.7Z"/>
<path fill="#812d06" stroke="#333" stroke-width="0.45" stroke-opacity="0.55" stroke-linejoin="round" d="M348.5,192.3L351.5,192.3L354.5,192.3L357.5,192.3L360.5,192.3L363.6,192.3L366.6,192.3L366.5,188.2L366.5,184.0L366.4,179.9L366.4,175.9L366.3,171.9L366.3,167.9L366.2,164.0L363.5,164.0L360.7,164.0L358.0,164.0L355.2,164.0L352.5,164.0L349.8,164.0L349.6,167.9L349.4,171.9L349.2,175.9L349.0,179.9L348.8,184.0L348.6,188.2Z"/>
<path fill="#812d06" stroke="#333" stroke-width="0.45" stroke-opacity="0.55" stroke-linejoin="round" d="M348.5,177.8L348.3,178.3L346.7,179.8L347.8,180.8L349.0,180.3L350.5,180.9L351.8,181.0L352.0,177.3Z"/>
<path fill="#fe9929" stroke="#333" stroke-width="0.45" stroke-opacity="0.55" stroke-linejoin="round" d="M340.6,188.5L344.3,188.5L347.9,188.5L351.6,188.5L351.7,184.7L351.8,181.0L350.5,180.9L349.0,180.3L347.8,180.8L346.7,179.8L348.3,178.3L348.5,177.0L345.0,177.0L341.4,177.0L341.2,180.8L340.9,184.7Z"/>
<path fill="#fff7bc" stroke="#333" stroke-width="0.45" stroke-opacity="0.55" stroke-linejoin="round" d="M317.7,159.2L320.4,159.2L323.1,159.2L325.8,159.2L328.5,159.2L331.2,159.2L333.9,159.2L336.6,159.2L339.2,159.2L339.7,154.6L340.2,150.0L337.6,150.0L335.1,150.0L332.5,150.0L329.9,150.0L327.3,150.0L324.7,150.0L322.2,150.0L319.6,150.0L318.6,154.6Z"/>
<path fill="#cc4c02" stroke="#333" stroke-width="0.45" stroke-opacity="0.55" stroke-linejoin="round" d="M462.4,201.2L457.2,194.8L457.6,193.1L455.9,191.3L457.2,190.0L459.8,189.5L463.3,187.0L466.7,187.3L472.2,188.8L476.0,188.3L481.4,189.5L485.0,189.0L483.1,186.0L481.9,183.7L482.9,182.2L481.3,181.0L485.0,180.3L488.8,179.5L491.9,178.5L494.9,177.5L498.4,178.0L501.0,180.8L505.5,181.3L505.1,180.0L508.1,180.1L511.1,180.3L511.6,183.5L515.8,184.0L521.9,188.5L524.1,189.0L528.7,188.5L533.3,191.0L536.9,191.5L538.8,193.3L539.8,198.5L540.7,203.8L538.9,207.0L537.0,210.3L535.0,213.5L533.0,216.7L529.8,216.7L526.6,216.7L523.4,216.7L520.2,216.7L517.0,216.7L513.8,216.7L510.6,216.7L507.4,216.7L504.2,216.7L501.0,216.7L497.8,216.7L494.6,216.7L491.4,216.7L488.2,216.7L485.0,216.7L481.8,216.7L477.1,214.8L472.5,212.8L469.3,208.3L466.1,203.8Z"/>
<path fill="#fe9929" stroke="#333" stroke-width="0.45" stroke-opacity="0.55" stroke-linejoin="round" d="M539.7,193.1L543.1,191.0L546.2,189.3L551.1,189.8L554.6,190.8L558.2,191.8L559.0,190.0L556.1,185.7L560.7,186.8L565.3,187.5L567.0,189.8L570.4,190.8L574.7,190.3L579.2,191.3L586.0,193.3L588.8,191.8L591.6,190.3L596.8,191.3L604.0,198.7L603.5,203.2L602.9,207.7L602.1,212.2L601.1,216.7L597.8,216.7L594.6,216.7L591.3,216.7L588.0,216.7L584.7,216.7L581.4,216.7L578.1,216.7L574.8,216.7L571.5,216.7L568.2,216.7L564.9,216.7L560.3,213.6L555.6,210.5L551.0,207.4L546.3,204.3L541.7,201.2L540.7,197.1Z"/>
<path fill="#fe9929" stroke="#333" stroke-width="0.45" stroke-opacity="0.55" stroke-linejoin="round" d="M511.8,211.0L508.5,213.1L506.7,214.1L503.7,214.1L501.7,211.6L500.9,209.0L496.2,207.4L492.1,207.7L489.4,205.4L483.4,202.5L478.6,203.8L479.8,208.6L481.0,213.4L483.2,213.4L485.5,210.3L489.1,211.8L491.8,213.9L495.5,216.7L499.6,219.6L505.6,221.9L508.9,224.0L508.2,219.6L508.8,218.0L511.5,216.2L512.2,214.4L513.6,216.2L517.7,215.4L513.7,212.8Z"/>
<path fill="#fee391" stroke="#333" stroke-width="0.45" stroke-opacity="0.55" stroke-linejoin="round" d="M473.1,212.1L474.2,211.3L477.3,211.0L481.0,213.4L483.2,213.4L485.5,210.3L489.1,211.8L491.8,213.9L495.5,216.7L499.6,219.6L505.6,221.9L508.9,224.0L506.0,223.5L503.9,223.8L501.4,227.2L498.6,229.0L495.6,228.2L495.0,225.6L493.6,225.9L489.9,224.0L485.0,221.4L480.9,222.2L478.9,223.8L474.4,221.9L473.8,217.0Z"/>
<path fill="#fe9929" stroke="#333" stroke-width="0.45" stroke-opacity="0.55" stroke-linejoin="round" d="M531.5,211.3L526.1,209.2L523.0,209.4L519.9,209.5L516.6,209.0L512.0,209.7L511.8,211.0L513.7,212.8L517.7,215.4L513.6,216.2L512.2,214.4L511.5,216.2L512.0,217.8L516.4,218.3L519.9,218.0L522.9,215.2L525.7,214.1L528.4,212.6Z"/>
<path fill="#fec44f" stroke="#333" stroke-width="0.45" stroke-opacity="0.55" stroke-linejoin="round" d="M508.9,224.0L511.4,223.8L513.4,223.0L516.4,224.6L516.4,222.2L519.8,224.6L524.2,224.0L523.5,220.6L519.9,218.0L516.4,218.3L512.0,217.8L511.5,216.2L508.8,218.0L508.2,219.6Z"/>
<path fill="#fec44f" stroke="#333" stroke-width="0.45" stroke-opacity="0.55" stroke-linejoin="round" d="M458.1,217.5L457.7,220.9L459.3,224.0L461.4,227.7L462.7,229.5L462.1,232.4L464.7,235.0L468.0,238.2L468.1,240.5L470.4,243.1L474.5,250.7L478.0,252.7L481.6,254.6L485.2,256.6L488.8,258.6L492.9,257.6L497.0,256.6L501.1,255.7L501.1,252.5L504.3,251.5L502.3,249.9L502.7,247.6L500.0,246.3L497.7,243.1L499.3,240.8L498.8,239.2L497.0,238.9L495.4,233.7L495.6,228.2L495.0,225.6L493.6,225.9L489.9,224.0L485.0,221.4L480.9,222.2L478.9,223.8L475.2,223.2L471.6,222.6L467.9,221.9L467.5,220.9L466.0,219.6L465.0,217.8L462.1,219.6Z"/>
<path fill="#fee391" stroke="#333" stroke-width="0.45" stroke-opacity="0.55" stroke-linejoin="round" d="M495.6,228.2L498.6,229.0L501.4,227.2L503.9,223.8L506.0,223.5L508.9,224.0L511.4,223.8L513.4,223.0L516.4,224.6L516.4,222.2L519.8,224.6L524.2,224.0L523.7,224.3L520.3,224.8L517.4,225.9L518.2,228.5L517.8,231.1L515.5,232.4L516.1,234.2L515.3,237.9L512.7,238.9L509.6,240.2L509.7,243.1L504.8,244.2L501.5,244.4L497.7,243.1L498.8,239.2L497.0,238.9L495.4,233.7Z"/>
<path fill="#fe9929" stroke="#333" stroke-width="0.45" stroke-opacity="0.55" stroke-linejoin="round" d="M501.1,255.7L501.1,252.5L504.3,251.5L502.3,249.9L502.7,247.6L500.0,246.3L497.7,243.1L501.5,244.4L504.8,244.2L509.7,243.1L509.6,240.2L512.7,238.9L515.3,237.9L516.1,234.2L515.5,232.4L517.8,231.1L518.2,228.5L517.4,225.9L520.3,224.8L523.7,224.3L525.8,224.8L528.7,227.7L531.7,228.5L527.1,229.8L524.1,231.1L525.8,233.7L526.7,236.3L527.3,240.2L525.9,242.9L524.9,244.7L522.6,248.4L519.2,250.7L520.1,253.9L521.8,256.0L519.1,257.8L516.4,259.4L511.3,258.6L506.2,257.1Z"/>
<path fill="#812d06" stroke="#333" stroke-width="0.45" stroke-opacity="0.55" stroke-linejoin="round" d="M516.4,259.4L519.1,257.8L521.8,256.0L520.1,253.9L519.2,250.7L522.6,248.4L524.9,244.7L525.9,242.9L527.3,240.2L526.7,236.3L525.8,233.7L524.1,231.1L527.1,229.8L531.7,228.5L535.4,228.5L537.5,229.8L535.2,231.6L535.7,236.3L537.1,239.5L540.0,241.6L543.2,241.8L548.3,245.0L552.0,246.5L556.5,248.1L559.5,248.4L562.4,247.6L567.4,248.6L570.2,248.1L572.8,245.0L576.0,244.4L579.6,247.6L579.7,250.7L575.9,251.8L575.1,254.6L574.9,259.1L573.6,263.8L572.1,264.1L571.4,269.0L567.9,272.3L564.3,275.6L560.7,278.8L557.1,282.1L555.6,286.5L554.0,290.8L552.4,295.2L550.7,299.6L549.0,303.9L547.2,308.3L543.5,306.7L539.7,305.1L536.0,303.6L532.2,302.0L528.5,300.4L526.7,296.4L525.0,292.3L523.2,288.2L521.4,284.2L519.5,280.1L517.6,276.0L515.7,271.9L513.8,267.9L511.9,263.8Z"/>
<path fill="#fee391" stroke="#333" stroke-width="0.45" stroke-opacity="0.55" stroke-linejoin="round" d="M540.0,241.6L540.7,246.0L544.0,247.8L548.8,249.7L551.8,249.9L555.2,251.8L560.0,252.3L559.5,248.4L556.5,248.1L552.0,246.5L548.3,245.0L543.2,241.8Z"/>
<path fill="#fff7bc" stroke="#333" stroke-width="0.45" stroke-opacity="0.55" stroke-linejoin="round" d="M561.2,249.9L562.4,247.6L567.4,248.6L568.8,251.2L563.7,251.5Z"/>
<path fill="#fec44f" stroke="#333" stroke-width="0.45" stroke-opacity="0.55" stroke-linejoin="round" d="M563.8,264.6L562.9,261.2L561.9,257.8L560.6,256.7L560.9,253.3L562.2,252.8L564.1,253.6L566.0,255.4L569.4,255.7L570.7,257.8L569.6,260.7L571.0,261.4L572.3,265.4L571.8,267.2L568.1,266.8L564.3,266.4Z"/>
<path fill="#fee391" stroke="#333" stroke-width="0.45" stroke-opacity="0.55" stroke-linejoin="round" d="M579.6,247.6L582.8,248.9L584.1,253.6L582.4,256.5L585.2,258.3L587.3,261.4L589.4,265.1L589.7,268.0L586.3,269.8L584.9,273.0L588.1,278.2L587.4,281.3L589.7,285.3L590.3,288.9L589.3,294.2L588.2,297.8L585.6,293.9L583.0,290.0L580.3,285.6L577.6,281.2L574.7,276.9L573.3,272.0L571.8,267.2L572.3,265.4L572.1,264.1L573.6,263.8L574.9,259.1L575.1,254.6L575.9,251.8L579.7,250.7Z"/>
<path fill="#ec7014" stroke="#333" stroke-width="0.45" stroke-opacity="0.55" stroke-linejoin="round" d="M589.7,268.0L590.9,270.3L592.5,270.3L592.6,275.6L595.2,274.5L597.5,273.5L601.3,275.8L603.9,279.8L604.2,283.9L598.9,283.9L597.5,285.8L598.6,289.2L599.0,291.0L594.9,295.2L596.5,300.2L598.1,305.1L595.8,306.5L593.4,304.4L588.5,303.1L589.0,298.6L589.3,294.2L590.3,288.9L589.7,285.3L587.4,281.3L588.1,278.2L584.9,273.0L586.3,269.8Z"/>
<path fill="#ec7014" stroke="#333" stroke-width="0.45" stroke-opacity="0.55" stroke-linejoin="round" d="M593.4,304.4L595.8,306.5L598.1,305.1L604.9,308.3L604.5,313.3L604.1,318.2L601.7,318.2L597.7,315.9L593.5,313.5L593.5,308.9Z"/>
<path fill="#ec7014" stroke="#333" stroke-width="0.45" stroke-opacity="0.55" stroke-linejoin="round" d="M615.6,316.9L619.7,314.8L623.6,313.3L626.0,309.3L628.9,308.0L631.6,303.1L634.0,304.6L638.3,307.5L636.1,309.9L634.1,310.4L630.4,310.1L629.3,313.0L627.1,317.4L623.7,318.0L620.2,319.0L617.9,319.3L615.8,318.0Z"/>
<path fill="#ffffe5" stroke="#333" stroke-width="0.45" stroke-opacity="0.55" stroke-linejoin="round" d="M626.0,309.3L627.2,310.9L628.3,309.9L628.7,308.3L627.5,308.0Z"/>
<path fill="#fec44f" stroke="#333" stroke-width="0.45" stroke-opacity="0.55" stroke-linejoin="round" d="M589.7,268.0L589.2,265.1L591.8,265.4L592.7,262.8L593.4,262.8L595.5,264.6L597.2,267.2L599.6,268.0L599.0,269.8L601.5,272.4L605.4,276.1L608.3,280.0L608.9,283.2L605.8,283.7L604.2,283.9L603.9,279.8L601.3,275.8L597.5,273.5L595.2,274.5L592.6,275.6L592.5,270.3L590.9,270.3Z"/>
<path fill="#fee391" stroke="#333" stroke-width="0.45" stroke-opacity="0.55" stroke-linejoin="round" d="M604.2,283.9L605.8,283.7L608.9,283.2L609.2,287.4L609.4,289.2L607.0,290.8L606.2,292.8L603.9,292.8L602.9,294.2L599.5,295.2L599.0,291.0L598.6,289.2L597.5,285.8L598.9,283.9Z"/>
<path fill="#ec7014" stroke="#333" stroke-width="0.45" stroke-opacity="0.55" stroke-linejoin="round" d="M593.4,262.8L595.4,262.5L597.5,261.7L600.2,260.4L603.6,261.7L604.0,263.8L607.1,264.8L610.8,266.9L614.6,269.0L614.9,273.4L615.2,277.8L615.4,282.1L615.6,286.5L615.6,290.8L615.6,295.2L612.3,296.5L608.9,297.8L605.6,299.1L602.2,300.4L602.9,294.2L603.9,292.8L606.2,292.8L607.0,290.8L609.4,289.2L609.2,287.4L608.9,283.2L608.3,280.0L605.4,276.1L601.5,272.4L599.0,269.8L599.6,268.0L597.2,267.2L595.5,264.6Z"/>
<path fill="#cc4c02" stroke="#333" stroke-width="0.45" stroke-opacity="0.55" stroke-linejoin="round" d="M627.7,217.0L628.5,214.9L630.3,212.1L633.7,213.1L634.4,211.6L635.5,210.5L637.2,210.5L638.7,211.6L639.8,215.4L640.9,219.3L638.0,220.4L635.5,221.4L634.2,222.7L629.3,221.9Z"/>
<path fill="#cc4c02" stroke="#333" stroke-width="0.45" stroke-opacity="0.55" stroke-linejoin="round" d="M634.2,222.7L635.5,221.4L638.0,220.4L642.2,221.9L644.7,227.2L647.0,232.4L644.0,233.3L641.1,234.1L638.2,235.0L636.6,231.1L634.9,227.2L633.1,223.3Z"/>
<path fill="#662506" stroke="#333" stroke-width="0.45" stroke-opacity="0.55" stroke-linejoin="round" d="M538.8,193.3L539.7,193.1L545.7,196.4L549.7,201.2L549.8,203.3L553.1,203.7L556.4,204.1L560.9,205.9L564.9,209.7L569.6,209.7L574.2,209.7L579.3,211.2L584.3,212.6L587.7,210.8L591.0,210.1L594.2,209.5L596.1,207.2L594.1,205.4L594.4,203.5L599.2,202.8L602.3,200.2L605.1,199.8L608.0,199.4L603.7,196.4L601.5,196.9L597.2,195.9L596.8,191.3L599.7,192.3L601.7,190.8L600.5,187.0L599.4,182.7L603.9,182.2L609.5,183.5L616.7,189.3L622.2,192.3L626.5,193.8L629.4,196.9L633.0,195.9L635.9,195.4L637.0,198.4L638.1,201.2L638.1,203.5L635.3,203.0L634.1,204.1L637.2,208.4L637.2,210.5L635.5,210.5L634.4,211.6L633.7,213.1L630.3,212.1L628.5,214.9L627.7,217.0L627.1,221.9L629.0,226.1L630.8,230.3L632.5,234.5L634.0,238.7L635.5,242.9L634.8,247.7L633.8,252.5L632.7,257.3L630.0,260.5L627.3,263.8L623.6,263.7L620.0,263.5L615.9,270.3L608.9,267.7L607.1,264.8L604.0,263.8L603.6,261.7L600.2,260.4L597.5,261.7L595.4,262.5L593.4,262.8L592.7,262.8L591.8,265.4L589.4,265.1L587.3,261.4L585.2,258.3L582.4,256.5L584.1,253.6L582.8,248.9L579.6,247.6L576.0,244.4L572.8,245.0L570.2,248.1L567.4,248.6L562.4,247.6L561.2,249.9L559.5,248.4L556.5,248.1L552.0,246.5L548.3,245.0L543.2,241.8L540.0,241.6L537.1,239.5L535.7,236.3L535.2,231.6L537.5,229.8L535.4,228.5L531.7,228.5L528.7,227.7L525.8,224.8L524.2,224.0L523.5,220.6L519.9,218.0L522.9,215.2L525.7,214.1L528.4,212.6L531.5,211.3L531.1,209.0L528.5,203.8L532.5,202.5L532.2,198.2L537.5,198.7Z"/>
<path fill="#662506" stroke="#333" stroke-width="0.45" stroke-opacity="0.55" stroke-linejoin="round" d="M608.8,275.6L613.3,275.6L617.9,275.6L616.7,268.2L612.2,268.2L607.6,268.2Z"/>
<path fill="#cc4c02" stroke="#333" stroke-width="0.45" stroke-opacity="0.55" stroke-linejoin="round" d="M634.2,265.1L637.6,265.1L641.1,265.1L640.0,259.5L638.7,253.9L635.3,253.9L631.8,253.9L633.1,259.5Z"/>
<path fill="#993404" stroke="#333" stroke-width="0.45" stroke-opacity="0.55" stroke-linejoin="round" d="M646.6,242.9L649.8,241.9L653.1,240.9L656.3,239.9L659.5,238.9L662.7,238.0L665.9,237.0L669.1,236.0L672.2,235.0L672.8,230.4L673.3,225.9L673.5,221.3L673.6,216.7L671.7,212.8L669.6,209.0L667.5,205.1L665.2,201.2L661.7,201.1L658.1,200.9L654.6,200.7L655.2,206.1L655.5,211.6L654.1,214.8L652.6,218.0L651.0,221.3L649.2,224.6L647.3,227.8L645.3,231.1L645.8,235.0L646.3,238.9Z"/>
<path fill="#ec7014" stroke="#333" stroke-width="0.45" stroke-opacity="0.55" stroke-linejoin="round" d="M633.4,301.5L638.2,304.4L640.6,307.0L644.4,307.3L648.2,307.6L651.9,308.0L655.7,308.3L655.5,304.1L655.2,299.9L654.8,295.6L654.4,291.4L653.9,287.2L653.3,283.0L652.6,278.8L651.9,274.6L651.1,270.3L647.7,270.3L644.3,270.3L640.9,270.3L637.5,270.3L634.1,270.3L634.8,274.3L635.4,278.2L636.0,282.1L636.5,286.0L637.0,290.0L633.9,293.9L630.8,297.8Z"/>
<path fill="#cc4c02" stroke="#333" stroke-width="0.45" stroke-opacity="0.55" stroke-linejoin="round" d="M579.4,304.4L582.9,305.4L586.4,306.5L589.9,307.5L594.0,311.9L595.9,314.6L598.2,316.4L601.1,318.4L604.1,318.5L605.2,324.0L608.7,322.7L612.2,321.4L615.8,318.0L617.9,319.3L620.2,319.0L623.7,318.0L627.1,317.4L629.3,313.0L630.4,310.1L634.1,310.4L636.1,309.9L638.6,313.5L644.4,316.1L649.0,312.9L653.4,309.6L657.0,311.6L660.5,313.5L664.1,315.3L667.6,317.2L671.1,319.0L674.6,320.8L678.0,322.7L681.5,324.5L684.9,326.3L688.3,328.2L688.1,332.5L687.9,336.8L687.6,341.1L687.2,345.4L686.7,350.2L683.2,350.2L679.8,350.2L676.3,350.2L672.9,350.2L669.4,350.2L666.0,350.2L662.5,350.2L659.1,350.2L655.6,350.2L652.2,350.2L648.7,350.2L645.3,350.2L641.9,350.2L638.4,350.2L635.0,350.2L631.5,350.2L628.1,350.2L624.6,350.2L621.2,350.2L617.7,350.2L614.3,350.2L610.8,350.2L607.4,350.2L603.9,350.2L602.0,346.0L599.9,341.8L597.8,337.7L595.7,333.5L593.5,329.3L591.3,325.2L589.1,321.0L586.7,316.8L584.3,312.7L581.8,308.5Z"/>
<path fill="url(#hatch)" stroke="#aaa" stroke-width="0.5" stroke-linejoin="round" d="M650.4,343.6L656.6,342.3L656.4,344.9L650.7,346.5L650.5,345.4Z"/>
<path fill="url(#hatch)" stroke="#aaa" stroke-width="0.5" stroke-linejoin="round" d="M688.3,328.2L688.1,332.5L687.9,336.8L687.6,341.1L687.2,345.4L686.4,352.8L690.0,352.8L693.6,352.8L697.3,352.8L700.9,352.8L704.5,352.8L708.2,352.8L711.8,352.8L715.5,352.8L719.1,352.8L722.7,352.8L726.4,352.8L730.0,352.8L730.5,348.8L731.0,344.9L731.4,341.0L731.7,337.1L731.9,333.1L732.1,329.2L732.3,325.3L732.4,321.4L728.7,321.4L725.1,321.4L721.4,321.4L717.7,321.4L714.1,321.4L710.4,321.4L706.8,321.4L703.1,321.4L699.4,321.4L695.8,321.4L692.1,321.4L688.5,321.4Z"/>
<path fill="#fee391" stroke="#333" stroke-width="0.45" stroke-opacity="0.55" stroke-linejoin="round" d="M546.2,307.0L552.9,307.0L552.8,303.0L552.6,299.0L552.4,294.9L546.7,294.9L545.9,297.3L546.1,302.1Z"/>
<path fill="#993404" stroke="#333" stroke-width="0.45" stroke-opacity="0.55" stroke-linejoin="round" d="M616.4,376.3L620.5,373.7L624.6,371.1L628.8,368.5L632.9,365.9L637.0,363.2L641.2,360.6L645.2,358.0L649.3,355.4L654.2,352.6L659.1,349.9L662.8,349.8L666.5,349.8L670.2,349.7L673.9,349.7L677.5,349.6L681.4,349.1L685.3,348.6L689.2,348.1L691.1,347.3L693.1,349.9L695.2,353.9L697.1,358.0L699.3,362.1L701.5,366.2L703.5,370.3L705.5,374.4L707.5,378.6L709.4,382.7L711.2,386.8L709.9,390.8L708.5,394.8L706.9,398.9L705.2,402.9L703.3,406.9L701.3,410.9L699.2,415.0L697.0,419.0L694.6,423.0L692.1,427.0L689.4,431.0L686.6,435.0L683.6,438.9L680.5,438.9L677.4,438.9L674.3,438.9L671.2,438.9L668.1,438.9L665.0,438.9L661.9,438.9L658.8,438.9L655.7,438.9L652.6,438.9L649.5,438.9L646.4,438.9L643.2,438.9L640.1,438.9L637.0,438.9L633.9,438.9L630.8,438.9L627.7,438.9L624.6,438.9L621.5,438.9L618.4,438.9L615.3,438.9L612.2,438.9L609.1,438.9L606.0,438.9L602.8,438.9L599.7,438.9L596.6,438.9L593.5,438.9L590.4,438.9L592.7,435.1L594.9,431.2L597.1,427.3L599.1,423.4L601.0,419.5L602.9,415.6L604.6,411.6L606.3,407.7L607.9,403.8L609.4,399.9L610.8,395.9L612.1,392.0L613.3,388.1L614.4,384.2L615.4,380.2Z"/>
<path fill="#fe9929" stroke="#333" stroke-width="0.45" stroke-opacity="0.55" stroke-linejoin="round" d="M724.9,407.7L728.4,407.7L732.0,407.7L735.5,407.7L739.1,407.7L742.6,407.7L746.1,407.7L749.7,407.7L753.2,407.7L756.7,407.7L754.5,411.6L752.1,415.6L749.5,419.5L746.8,423.4L743.9,427.3L740.9,431.2L737.7,435.1L734.4,438.9L731.0,442.8L727.5,446.6L724.3,446.6L721.0,446.6L717.7,446.6L714.4,446.6L711.2,446.6L707.9,446.6L704.6,446.6L701.3,446.6L698.1,446.6L701.3,442.8L704.4,438.9L707.4,435.1L710.3,431.2L713.1,427.3L715.8,423.4L718.3,419.5L720.6,415.6L722.8,411.6Z"/>
<path fill="#fee391" stroke="#333" stroke-width="0.45" stroke-opacity="0.55" stroke-linejoin="round" d="M732.9,372.4L736.7,372.4L740.5,372.4L744.3,372.4L743.1,377.0L741.9,381.6L738.2,381.6L734.4,381.6L730.6,381.6L731.8,377.0Z"/>
<path fill="#ffffe5" stroke="#333" stroke-width="0.45" stroke-opacity="0.55" stroke-linejoin="round" d="M440.3,244.5L442.6,245.0L445.8,242.9L446.7,241.6L444.2,238.9L449.1,237.1L455.4,240.0L462.0,245.0L466.0,245.2L470.4,246.8L474.7,253.3L476.9,256.7L477.8,257.0L478.8,258.0L481.4,261.4L487.3,262.0L488.6,263.8L487.4,269.0L484.1,270.3L480.8,271.7L474.3,272.7L472.3,273.7L469.8,276.9L465.2,275.8L461.7,275.6L460.3,278.5L454.0,279.5L452.4,275.4L450.9,271.3L449.4,267.2L447.8,263.1L446.3,258.9L444.7,254.8L443.1,250.7Z"/>
<path fill="#ffffe5" stroke="#333" stroke-width="0.45" stroke-opacity="0.55" stroke-linejoin="round" d="M460.3,278.5L461.7,275.6L465.2,275.8L469.8,276.9L472.3,273.7L474.3,272.7L480.8,271.7L481.7,277.9L483.8,277.7L484.0,281.8L484.1,285.9L484.3,290.0L480.6,289.8L476.9,289.7L473.2,289.6L469.5,289.4L465.9,289.3L462.2,289.2L461.9,288.1L460.8,284.7L460.0,280.8Z"/>
<path fill="#ffffe5" stroke="#333" stroke-width="0.45" stroke-opacity="0.55" stroke-linejoin="round" d="M480.8,271.7L484.1,270.3L487.4,269.0L488.6,263.8L488.8,258.6L489.4,256.2L488.7,252.0L493.4,256.6L498.0,261.2L496.8,265.8L495.5,270.3L494.2,274.9L492.8,279.5L488.3,278.6L483.8,277.7L481.7,277.9Z"/>
<path fill="#fee391" stroke="#333" stroke-width="0.45" stroke-opacity="0.55" stroke-linejoin="round" d="M478.8,258.0L481.4,261.4L487.3,262.0L488.6,263.8L488.8,258.6L489.4,256.2L489.1,254.4L488.0,253.9L484.0,256.0L479.6,257.3Z"/>
<path fill="#ffffe5" stroke="#333" stroke-width="0.45" stroke-opacity="0.55" stroke-linejoin="round" d="M476.9,256.7L477.8,257.0L479.1,256.0L478.7,252.5L476.9,252.5Z"/>
<path fill="#ffffe5" stroke="#333" stroke-width="0.45" stroke-opacity="0.55" stroke-linejoin="round" d="M466.0,245.2L468.4,242.6L469.1,243.1L470.6,244.2L470.4,246.8Z"/>
<path fill="#ffffe5" stroke="#333" stroke-width="0.45" stroke-opacity="0.55" stroke-linejoin="round" d="M454.1,224.3L459.3,224.0L461.4,227.7L462.7,229.5L462.1,232.4L464.7,235.0L468.0,238.2L468.1,240.5L470.4,243.1L469.1,243.1L468.4,242.6L466.0,245.2L462.0,245.0L455.4,240.0L449.1,237.1L447.6,234.0L452.5,231.1L452.4,227.2Z"/>
<path fill="#fff7bc" stroke="#333" stroke-width="0.45" stroke-opacity="0.55" stroke-linejoin="round" d="M440.3,244.2L441.0,241.6L440.9,238.9L441.3,235.8L444.4,234.9L447.6,234.0L449.1,237.1L444.2,238.9L446.7,241.6L445.8,242.9L442.6,245.0L440.3,244.5Z"/>
<path fill="#ffffe5" stroke="#333" stroke-width="0.45" stroke-opacity="0.55" stroke-linejoin="round" d="M440.5,227.4L441.1,227.2L441.7,225.1L444.7,225.1L449.1,225.1L454.1,224.3L452.4,227.2L452.5,231.1L447.6,234.0L444.4,234.9L441.3,235.8L441.1,234.2L441.4,232.9L442.2,230.8L440.9,230.8L438.8,229.8Z"/>
<path fill="#fff7bc" stroke="#333" stroke-width="0.45" stroke-opacity="0.55" stroke-linejoin="round" d="M439.6,234.8L441.1,234.2L441.4,232.9L442.2,230.8L440.9,230.8L439.0,231.1L438.9,234.2Z"/>
<path fill="#ec7014" stroke="#333" stroke-width="0.45" stroke-opacity="0.55" stroke-linejoin="round" d="M438.1,239.5L440.1,244.2L440.3,244.2L441.0,241.6L440.9,238.9L441.3,235.8L441.1,234.2L439.6,234.8L438.5,236.3L437.6,238.9Z"/>
<path fill="none" stroke="#aaa" stroke-width="0.5" stroke-linejoin="round" d="M323.9,267.0L324.2,265.6L328.6,265.6L333.1,265.6L333.0,261.8L335.5,260.0L335.6,253.3L339.3,253.3L343.1,253.3L343.1,249.9M334.6,282.6L336.0,281.1L338.1,281.9L341.1,281.1L345.5,280.9L350.0,280.8L350.4,278.7L349.9,274.2L349.4,269.7L348.9,265.2L348.4,260.7L347.9,256.2L351.8,256.0M334.8,288.9L336.4,288.9L338.2,290.2L340.5,289.4L343.0,291.8L343.7,293.9L346.4,294.7L349.9,294.2L350.1,292.6L352.5,288.7L353.6,286.0L358.0,283.2L361.4,281.9L363.0,282.4M331.1,288.2L331.1,290.5L328.8,291.3L328.1,292.7M331.9,297.6L334.0,295.5L336.8,295.2L337.9,297.0L338.1,299.1L336.0,303.3M338.1,299.1L340.7,299.4L340.9,301.7L343.0,301.5L343.4,301.2L344.1,299.1L344.4,296.8L343.7,293.9M343.4,301.2L342.9,304.4L345.2,307.8L345.2,309.9M349.9,294.2L352.0,296.0L355.6,295.5L356.3,296.5L356.8,300.4L355.2,304.9L355.9,308.0M356.3,296.5L356.1,292.6L362.3,292.3L364.6,292.6M362.3,292.3L363.7,295.2L363.7,299.6L364.2,303.1L365.3,305.4M387.8,234.5L385.3,238.4L384.7,242.3M396.4,261.2L399.9,262.7L403.3,264.2L406.7,265.8L410.2,267.3L413.6,268.8L417.1,270.3L417.0,269.0L419.3,269.0L419.1,263.8M417.1,270.3L417.3,275.3L417.4,280.3L414.9,280.5L413.9,284.5L414.2,287.4L412.8,288.4L414.3,292.6M414.3,292.6L410.9,296.5L406.3,297.8L401.3,301.7L398.3,301.7M398.3,301.7L395.7,296.5L398.2,295.2L396.8,291.0L395.8,290.0M414.3,292.6L415.5,295.2L416.9,298.6M416.9,298.6L421.2,294.4L425.8,296.2L430.4,295.7L434.9,291.3L437.9,289.4L438.9,293.6L441.0,296.5M445.9,283.9L446.1,282.1L447.0,276.9L450.5,274.3M459.9,288.7L461.5,288.1M461.2,292.6L461.9,291.4M416.9,298.6L419.0,299.6L420.9,301.7L425.8,308.0M398.3,301.7L396.0,308.3L397.2,310.9L400.0,315.6M400.0,315.6L400.9,312.2L405.5,312.2M385.2,315.6L388.7,315.6L393.3,315.6L396.1,315.9L399.8,316.9M388.7,315.6L388.7,318.8L384.7,318.8M393.3,315.6L394.9,317.7L396.1,322.7L394.4,325.3L395.6,327.4L391.4,327.6L389.6,330.5L388.2,331.6M389.8,333.4L391.4,333.4L392.8,333.7M429.5,328.7L433.7,327.6M172.2,282.1L169.1,282.6L166.6,284.7L163.5,286.6L162.3,287.4M157.9,283.7L159.7,285.0L161.3,285.0L161.4,286.6M160.9,280.3L158.7,279.8"/>
</g>
<g fill="none" stroke="#555" stroke-width="0.3" stroke-opacity="0.35" stroke-linejoin="round">
<path d="M182.9,302.5L181.9,299.6L179.5,298.1L177.3,299.9L178.1,302.0L176.0,302.5L174.3,300.2L171.5,300.4L169.8,298.9L166.9,296.2L165.4,295.5L165.3,292.6L163.3,289.4L161.6,287.4L158.5,286.3L154.9,285.0L151.4,283.4L147.9,279.8L146.0,279.0L141.9,280.3L137.6,278.7L134.4,277.1L131.2,275.3L126.9,273.5L123.9,270.9L122.7,268.0L124.1,265.1L122.4,260.7L119.7,256.0L117.2,252.5L114.9,248.4L113.0,244.7L112.6,240.2L109.3,238.2L108.5,242.9L110.7,246.8L111.9,250.7L112.4,253.3L113.5,257.3L114.1,258.0L115.6,260.7L114.3,261.4L113.8,259.6L111.5,257.3L110.5,254.6L111.3,252.0L107.9,248.6L108.1,246.5L106.1,241.8L105.4,238.2L104.9,236.3L105.1,234.5L103.4,232.7L102.0,231.9L99.3,230.8L99.5,228.2L98.7,225.6L98.8,222.5L98.2,221.4L98.2,218.0L98.1,215.7L100.5,212.1L101.3,209.5L105.1,204.8L107.7,200.7L108.9,197.9L109.7,195.1L112.6,195.9L114.5,193.6L113.4,191.5L112.3,190.3L109.6,188.5L109.5,186.0L109.5,182.2L110.6,179.3L111.8,176.1L111.2,173.6L111.3,170.4L107.0,170.0L105.9,169.2L103.7,167.3L101.4,166.3L96.7,166.3L93.9,164.7L88.4,166.3L85.3,167.6L80.2,168.3L84.2,165.2L88.8,163.5L81.0,166.3L75.6,168.8L68.7,171.7L60.5,174.8L53.1,177.3L46.2,179.3L52.0,176.6L57.7,174.8L64.9,171.7L69.2,169.5L66.4,169.5L63.6,169.5L59.6,169.7L62.9,166.8L60.3,165.2L61.8,162.8L65.3,160.4L68.3,158.8L71.8,158.4L75.4,158.1L78.7,155.7L74.8,155.7L71.9,155.6L68.9,155.5L69.4,153.2L74.7,151.8L77.8,151.5L80.9,151.2L81.4,148.9L82.9,145.8L86.6,145.1L90.2,144.5L96.1,142.7L101.1,141.6L106.2,140.6L108.3,140.9L110.4,141.3L112.5,141.6L115.0,142.2L117.6,142.7L119.8,142.9L122.0,143.2L124.7,143.6L127.4,144.1L129.8,144.8L132.3,145.6L138.1,144.2L140.3,144.5L144.3,143.9L148.3,143.4L151.0,143.9L153.7,144.5L156.4,144.5L159.1,144.6L161.8,144.7L164.2,145.1L166.6,145.4L169.1,145.8L170.5,147.8L173.7,147.3L177.0,146.9L180.2,146.5L183.0,146.2L185.7,146.0L188.0,146.6L190.3,147.2L192.6,147.8L195.6,147.2L198.6,146.7L203.0,144.5L209.2,139.3L209.3,142.9L211.3,145.6L213.8,146.7L217.2,146.7L222.7,143.8L224.7,144.5L224.0,147.8L222.3,150.3L217.4,151.2L213.9,151.2L208.1,155.7L206.6,156.7L201.1,158.1L196.8,160.4L192.4,162.8L186.9,167.6L186.7,169.2L187.1,173.6L191.8,173.6L193.8,175.1L195.8,176.6L198.9,177.8L203.8,178.3L201.2,183.7L202.6,187.8L205.8,187.3L209.2,181.0L214.6,177.3L217.9,172.4L218.1,168.8L219.7,164.4L222.8,160.6L226.3,160.8L229.9,160.9L233.1,163.2L233.1,168.8L236.0,170.4L242.0,167.6L243.8,165.6L244.1,171.2L245.4,174.8L246.9,178.0L250.7,181.0L252.5,185.2L249.4,187.3L245.9,188.9L242.4,190.5L239.3,190.5L236.3,190.5L233.3,190.5L229.1,191.0L224.2,193.6L220.0,196.6L220.8,197.4L224.8,194.6L228.3,193.3L232.3,193.6L230.4,196.1L229.9,198.7L231.0,200.5L234.7,201.8L236.2,202.3L238.5,198.9L239.4,201.2L236.3,203.3L231.7,204.8L225.2,207.7L225.4,205.1L229.4,203.0L226.0,203.3L223.6,204.3L220.0,205.9L216.0,207.2L213.8,210.0L213.1,210.8L214.8,212.1L212.1,212.8L209.1,213.6L205.4,215.2L204.5,218.0L202.1,219.6L201.2,221.2L198.7,224.0L198.3,224.8L198.2,229.3L195.7,230.6L192.1,232.7L188.8,234.5L184.2,237.6L182.2,241.6L182.8,247.1L183.0,252.0L181.8,255.4L180.2,255.4L179.0,253.1L177.8,248.9L178.4,246.0L176.8,243.1L175.0,242.9L172.9,243.7L170.9,241.8L167.7,241.3L164.4,242.1L164.2,244.7L161.8,245.2L159.2,244.2L154.9,243.4L152.0,244.4L147.3,247.6L145.1,249.1L144.4,253.6L142.8,257.3L141.4,263.0L142.1,267.2L143.8,271.1L146.3,273.0L147.4,273.7L152.0,272.7L154.8,272.7L157.0,269.6L157.9,266.4L159.6,265.6L164.4,265.1L165.8,266.4L163.7,270.3L162.2,273.2L161.2,275.6L160.3,279.5L159.3,280.0L162.5,280.0L166.0,279.5L169.4,280.0L172.2,282.1L171.0,287.4L170.4,292.6L171.6,295.2L173.1,297.3L176.0,298.3L178.6,296.8L181.8,296.8L184.3,298.6L185.1,300.7Z"/>
<path d="M241.7,197.1L245.0,197.1L248.4,197.1L252.6,199.7L255.3,197.4L255.0,194.6L251.8,192.3L252.1,187.0L248.7,189.5L244.0,194.1Z"/>
<path d="M112.5,195.1L108.9,193.8L106.4,189.3L109.2,189.0L112.1,192.1Z"/>
<path d="M104.0,185.5L103.7,180.8L105.7,181.0Z"/>
<path d="M233.0,193.1L238.0,192.8L236.1,191.3L233.1,191.3Z"/>
<path d="M230.6,199.7L235.3,200.0L234.9,201.2L231.3,200.7Z"/>
<path d="M235.6,202.3L238.9,201.5L239.0,198.7L236.1,200.7Z"/>
<path d="M255.9,150.9L250.2,154.6L246.3,156.9L243.6,160.4L239.1,160.4L235.9,158.1L233.7,155.7L231.2,155.5L228.0,155.6L224.9,155.7L226.3,153.4L229.2,153.1L232.0,152.7L234.8,152.3L237.6,147.8L235.8,146.7L234.0,145.6L232.5,142.9L229.8,143.2L227.2,143.4L223.9,142.3L221.4,141.9L218.9,141.6L216.5,141.2L217.0,138.6L222.7,135.9L225.1,135.9L227.5,135.9L230.0,135.8L232.5,135.6L235.0,135.5L236.9,136.5L238.9,137.6L240.9,138.4L243.0,139.3L245.1,140.1L247.0,142.3L248.8,143.4L250.6,144.5L248.0,146.0L250.4,147.8L253.2,148.9L256.0,150.0Z"/>
<path d="M219.9,158.1L216.5,157.7L213.2,157.4L209.9,155.7L214.0,152.3L218.3,152.3L218.7,155.7Z"/>
<path d="M215.0,160.2L210.9,161.1L212.7,159.5Z"/>
<path d="M237.2,133.8L234.8,133.8L232.5,133.8L230.1,133.8L227.8,133.8L225.7,133.3L223.7,132.8L221.7,132.3L219.7,131.8L223.7,128.8L226.4,129.1L229.1,129.4L231.2,129.6L233.3,129.8L235.3,130.0L237.4,130.2L239.5,130.4L238.8,132.8Z"/>
<path d="M243.2,129.8L241.0,129.3L238.8,128.8L237.1,128.3L235.3,127.8L233.6,127.3L231.9,126.8L231.8,124.9L231.5,122.3L236.5,120.6L239.5,120.0L242.5,119.5L245.5,119.0L248.2,118.7L250.8,118.5L253.5,118.3L256.2,118.0L258.3,118.1L260.5,118.1L262.6,118.1L264.8,118.2L266.9,118.2L268.8,118.4L270.6,118.6L272.5,118.8L274.4,119.0L270.3,120.4L266.6,121.3L262.9,122.3L259.1,123.1L255.4,124.0L250.8,125.7L248.2,126.8L244.7,128.2Z"/>
<path d="M233.0,125.9L230.3,126.1L227.6,126.3L224.9,126.4L224.2,125.2L223.5,124.0L226.5,122.3L229.8,121.7L233.1,121.1L234.6,121.8L236.1,122.6Z"/>
<path d="M216.2,138.6L213.3,138.3L210.4,138.0L211.8,134.9L214.2,134.8L216.7,134.7L219.1,134.7Z"/>
<path d="M206.6,139.5L203.8,139.8L201.1,140.1L200.0,138.7L198.9,137.4L204.3,135.3L206.6,135.3L209.0,135.3Z"/>
<path d="M200.3,146.7L196.1,146.7L197.1,144.5L201.9,143.8Z"/>
<path d="M192.0,145.6L189.6,145.4L187.2,145.3L184.8,145.1L181.1,145.6L177.3,146.0L174.7,145.6L172.2,145.1L169.6,144.5L166.9,143.8L168.1,141.2L173.3,138.0L176.7,137.2L180.1,136.3L182.1,136.7L184.1,137.0L186.1,137.4L189.8,136.9L193.4,136.5L194.4,138.6L194.3,141.2L195.2,142.9Z"/>
<path d="M174.2,140.1L171.0,140.3L167.9,140.4L164.7,140.6L162.8,140.1L161.0,139.6L159.1,139.1L166.0,134.9L168.7,134.7L171.3,134.4L173.9,134.2L176.0,135.1L178.2,135.9Z"/>
<path d="M198.4,132.8L195.8,133.0L193.2,133.2L190.6,133.4L187.5,133.4L184.4,133.4L182.4,132.8L180.5,132.2L187.4,130.0L190.0,129.9L192.6,129.8L195.2,129.8L197.6,130.3L200.1,130.8Z"/>
<path d="M210.8,132.8L208.9,132.1L207.0,131.4L209.9,129.6L213.7,129.6Z"/>
<path d="M216.6,133.2L214.5,133.0L212.4,132.8L215.7,131.2L218.4,131.6Z"/>
<path d="M186.1,129.8L182.8,130.3L179.4,130.8L177.8,130.3L176.2,129.8L182.9,127.8L185.3,128.0L187.6,128.2Z"/>
<path d="M207.6,127.2L205.4,127.2L203.2,127.2L204.0,125.5L206.9,125.3L209.7,125.1Z"/>
<path d="M198.7,127.2L196.2,127.2L193.7,127.2L191.2,127.2L196.2,125.9L198.2,126.0L200.3,126.1Z"/>
<path d="M254.5,126.4L255.7,127.9L257.0,129.3L258.3,130.8L260.8,130.8L263.2,130.8L265.7,130.8L268.1,130.8L270.6,130.8L272.4,131.5L274.2,132.2L274.2,134.9L273.7,140.1L275.3,141.7L277.0,143.4L271.3,146.7L270.6,150.0L270.8,153.4L272.1,156.9L272.0,161.6L273.9,164.0L276.7,165.2L279.5,166.3L283.2,166.3L285.2,162.8L289.1,159.2L294.4,153.4L297.1,153.2L299.8,153.0L303.7,150.0L307.5,147.1L310.6,147.0L313.8,146.8L316.9,146.7L319.7,145.6L322.5,144.5L325.2,143.4L324.2,140.1L327.9,138.0L327.8,134.9L332.0,133.8L333.4,130.8L334.9,127.8L333.3,124.9L336.9,122.3L340.0,121.4L342.9,120.6L340.9,120.4L338.8,120.2L336.8,120.0L334.8,119.8L332.5,119.5L330.3,119.2L328.1,119.0L326.0,118.6L324.0,118.3L321.9,118.0L319.9,117.6L317.9,117.3L315.5,117.3L313.1,117.4L310.7,117.4L308.4,117.5L305.8,117.9L303.2,118.5L300.6,119.0L298.0,119.2L295.5,119.4L292.9,119.6L290.3,119.8L288.3,119.7L286.2,119.7L284.2,119.6L282.1,119.6L279.4,119.9L276.7,120.2L274.1,120.8L271.5,121.4L266.7,122.8L263.9,123.4L261.2,124.0L257.9,125.2Z"/>
<path d="M170.3,264.2L171.7,262.8L174.6,261.4L177.4,260.7L180.8,260.9L183.9,262.8L187.1,264.8L190.8,266.2L194.2,268.2L193.4,269.0L187.7,269.3L186.4,267.2L184.4,264.8L180.8,264.1L177.5,263.5L175.7,262.0L172.5,264.1Z"/>
<path d="M193.2,273.2L196.8,273.2L199.2,274.8L199.9,274.3L203.2,273.5L206.6,273.2L206.9,272.2L203.9,270.9L202.4,269.6L199.7,269.3L195.9,269.6L197.0,271.7Z"/>
<path d="M184.0,273.7L185.3,274.7L187.6,274.5L189.0,274.3L188.1,273.5L186.4,273.0L184.5,273.1Z"/>
<path d="M209.5,274.3L213.2,273.7L213.2,273.2L209.6,273.0Z"/>
<path d="M187.8,251.5L190.0,252.0L189.2,253.9L187.2,252.5Z"/>
<path d="M187.1,256.0L187.4,258.6L186.1,258.0Z"/>
<path d="M191.0,255.4L191.4,257.3L190.5,256.0Z"/>
<path d="M220.1,294.9L222.2,294.9L222.3,293.1L220.4,293.4Z"/>
<path d="M7.8,271.7L10.8,270.3L8.8,268.2Z"/>
<path d="M7.3,266.9L8.8,267.2L8.1,266.4Z"/>
<path d="M4.0,265.6L5.3,265.6L4.9,264.6Z"/>
<path d="M0.9,264.1L2.1,263.8L1.6,263.3Z"/>
<path d="M69.9,173.1L75.4,171.9L74.8,170.7L71.3,171.7Z"/>
<path d="M56.1,158.1L58.4,158.4L60.8,158.8L60.6,157.1Z"/>
<path d="M54.6,166.8L57.4,165.9L55.8,165.4Z"/>
<path d="M184.3,298.6L185.6,300.4L186.3,299.1L188.5,296.5L188.9,294.2L190.6,292.6L192.0,291.8L194.8,291.0L197.5,288.9L199.2,290.5L198.0,292.6L197.1,294.7L197.9,297.0L199.2,295.7L198.8,293.4L200.5,292.1L201.3,290.8L202.9,291.3L205.3,292.8L208.5,293.6L213.0,294.9L214.9,293.6L218.8,293.4L219.9,295.2L222.0,298.9L224.8,299.6L228.3,303.6L230.8,305.7L235.2,305.9L238.0,306.2L241.8,308.5L243.4,310.4L244.7,313.5L247.0,316.9L247.0,321.4L250.5,324.8L256.2,324.0L260.2,327.9L266.0,329.0L272.5,330.5L273.6,331.0L277.1,334.2L281.3,335.8L282.3,339.9L281.9,343.1L280.4,346.7L277.5,350.2L274.2,355.4L273.3,360.1L273.4,367.7L272.4,372.7L271.1,374.5L269.8,378.9L267.7,381.3L265.0,381.6L261.7,382.6L258.2,384.2L254.7,387.6L253.6,390.7L254.2,395.9L251.6,399.9L249.6,404.6L247.6,408.2L245.6,409.6L244.0,411.9L242.9,412.7L240.0,412.7L236.3,411.6L234.8,410.3L235.1,411.9L238.0,414.5L239.7,416.6L238.9,420.8L237.1,422.3L232.0,423.4L229.0,422.9L230.5,426.0L229.5,428.6L224.8,428.6L227.7,431.2L228.9,432.7L227.3,433.5L227.1,436.4L226.5,438.9L223.6,441.5L225.3,443.5L228.6,446.1L226.1,450.4L225.6,453.0L225.7,455.7L227.6,457.5L227.6,458.2L229.7,460.5L233.7,463.0L236.7,463.7L234.2,464.2L231.6,464.9L229.0,465.4L225.5,464.2L221.2,461.2L218.4,459.2L215.3,456.7L211.1,451.7L208.8,446.6L209.5,444.1L207.6,443.3L208.7,440.2L208.3,436.4L208.3,433.8L206.6,431.2L206.8,429.9L205.5,425.7L204.5,420.8L204.8,418.2L204.5,417.7L204.8,413.0L205.3,407.7L204.4,402.5L203.8,397.3L204.1,393.3L204.0,386.8L203.8,383.1L203.4,376.3L202.5,369.5L199.8,367.7L197.1,365.1L192.2,361.9L187.9,357.7L185.5,352.8L181.9,347.5L179.3,341.0L175.9,335.8L174.9,333.7L176.9,330.3L178.0,327.9L175.6,327.1L176.5,323.7L177.4,319.3L180.0,318.2L180.5,316.7L183.6,312.2L183.9,309.6L184.2,305.7L182.9,302.5L185.1,300.7Z"/>
<path d="M206.0,430.7L207.9,431.4L208.9,434.8L207.0,434.3Z"/>
<path d="M438.1,239.5L433.9,239.5L428.8,239.2L426.7,240.5L422.6,239.2L418.0,238.7L414.3,237.1L410.9,235.3L406.8,237.4L406.8,240.2L404.7,242.1L400.1,240.2L396.7,237.6L391.5,235.3L387.8,234.5L384.9,233.2L384.6,231.1L386.5,228.2L385.6,227.7L386.3,224.6L384.6,224.0L383.7,223.8L381.1,224.8L377.7,224.6L373.4,225.3L369.0,225.1L364.7,225.9L361.2,228.0L357.8,229.5L356.0,229.0L351.0,227.4L349.7,227.7L348.8,229.8L347.7,232.4L345.9,233.4L343.9,234.5L342.1,236.3L340.9,240.2L341.3,241.8L339.2,245.0L336.9,247.6L333.5,249.1L330.0,252.8L328.8,257.3L326.5,259.4L324.0,265.4L325.5,270.3L326.1,274.0L324.9,279.0L323.2,282.6L322.5,282.9L324.0,285.3L324.0,288.7L324.7,289.4L326.9,290.8L328.7,293.4L331.0,296.5L332.1,299.1L333.7,302.0L336.3,303.3L337.6,304.9L341.8,308.3L345.2,309.9L348.7,308.5L353.3,307.8L357.9,308.8L360.2,307.8L362.1,307.0L365.3,305.4L368.1,304.9L370.4,304.6L372.9,305.1L375.2,307.5L376.4,310.1L378.7,309.9L381.7,309.3L383.3,310.9L384.9,310.9L385.2,313.5L385.2,315.6L384.5,318.8L384.0,320.3L382.7,323.2L384.5,326.6L388.0,331.0L390.0,333.9L390.7,337.1L392.3,342.3L392.9,344.4L393.8,348.8L391.5,355.4L390.5,359.3L389.5,366.6L391.0,370.8L393.2,375.0L395.1,381.3L396.0,388.1L397.5,392.0L399.3,396.2L401.3,401.2L402.8,406.4L402.8,411.1L405.1,411.9L406.2,412.4L410.7,410.6L414.6,410.5L418.6,410.3L421.7,409.0L425.3,406.4L428.8,403.3L431.4,399.6L434.8,395.9L436.2,391.8L435.7,389.4L437.8,387.6L442.6,384.2L442.9,378.9L441.9,375.0L441.6,373.2L445.6,369.8L448.0,367.2L451.6,365.3L455.2,360.6L455.8,358.0L455.6,351.5L455.5,348.8L454.0,342.3L453.2,339.2L452.1,335.8L453.0,333.7L454.2,331.8L455.4,328.7L458.4,325.8L460.8,322.7L464.2,318.8L467.2,316.1L471.1,311.2L474.0,307.0L476.6,300.4L479.4,293.9L480.4,290.5L477.4,291.3L472.9,292.1L469.5,293.1L466.1,294.2L462.5,291.8L461.8,291.0L460.6,288.7L457.7,286.0L454.0,281.3L452.9,280.5L450.3,275.6L447.9,272.2L447.1,270.1L446.4,266.4L443.9,262.5L442.8,258.8L440.0,253.3L438.1,249.9L434.9,243.1L436.5,246.0L439.2,248.9L440.1,244.2L439.0,241.3Z"/>
<path d="M475.8,352.6L476.9,357.3L478.0,361.9L476.2,365.9L474.4,370.4L472.6,375.0L470.7,380.6L468.8,386.3L463.8,388.4L461.6,385.5L460.5,378.9L463.1,373.7L463.0,369.8L462.9,365.9L468.4,362.4L472.6,356.7Z"/>
<path d="M350.4,227.2L348.9,225.9L346.6,224.0L343.3,224.6L343.7,220.6L342.2,219.9L343.4,216.7L344.1,213.6L343.8,211.6L343.1,209.0L345.4,207.4L347.9,207.4L352.1,207.7L356.3,207.9L358.8,207.9L359.8,205.1L360.1,201.2L358.1,198.2L353.4,196.6L352.8,195.1L356.5,194.1L359.3,194.6L359.5,191.8L362.1,192.8L365.6,190.8L365.7,188.8L367.5,188.3L369.3,187.5L370.9,186.2L371.8,183.7L373.3,182.5L376.2,182.2L378.2,182.0L379.7,181.0L379.1,178.5L378.1,177.0L378.1,174.3L380.6,173.4L382.5,171.9L382.4,174.6L383.2,175.6L382.1,176.8L381.5,178.5L381.9,179.5L383.8,181.0L385.9,180.5L388.7,179.8L390.2,181.3L393.6,180.3L397.3,179.0L398.6,180.0L400.6,180.0L401.2,178.8L403.2,177.8L402.9,175.8L402.4,173.9L403.3,172.4L405.2,171.9L407.1,173.6L408.3,173.6L408.5,171.7L406.5,170.0L406.3,168.3L408.5,167.6L411.7,167.3L414.5,167.6L418.3,166.6L416.0,165.9L413.6,165.2L410.4,165.4L408.4,165.9L405.0,166.6L402.0,165.2L401.5,162.8L401.3,159.2L404.2,156.9L406.5,154.6L407.3,154.6L404.7,152.8L401.8,153.0L399.6,155.7L398.6,157.4L395.8,159.7L394.0,162.8L394.1,164.7L397.2,166.1L396.5,167.8L394.0,170.0L393.7,173.6L393.1,175.6L390.3,176.1L387.4,177.5L386.4,175.3L384.8,171.9L383.4,169.0L382.2,167.8L381.2,168.8L377.6,170.9L374.8,170.7L373.0,169.0L372.3,165.4L371.6,162.8L372.5,160.9L375.1,159.2L377.3,157.4L380.5,154.8L382.6,152.8L385.0,150.9L387.3,148.9L388.8,147.1L391.1,145.6L394.1,144.0L397.3,142.9L401.5,141.4L404.8,141.0L408.5,141.2L412.2,142.7L413.9,142.7L412.6,144.0L415.2,144.5L417.8,144.9L420.4,145.2L423.0,145.6L426.8,146.7L430.5,147.8L433.5,150.5L431.1,151.4L428.6,152.3L426.3,154.0L424.0,155.7L427.2,156.4L429.5,155.7L434.0,155.7L437.1,151.8L439.3,152.3L437.1,147.1L441.6,147.8L445.3,148.5L447.9,148.0L450.6,147.6L453.2,147.1L454.5,146.2L457.3,146.0L460.1,145.8L463.5,145.8L464.1,143.8L467.3,144.2L470.4,144.7L472.9,143.2L472.5,141.2L472.4,137.4L473.2,136.1L478.1,137.4L480.8,140.1L482.6,142.3L485.2,146.0L489.0,148.9L489.3,146.7L485.6,142.3L487.3,140.1L489.3,138.4L490.6,135.7L497.4,139.5L497.1,141.2L501.2,142.3L502.0,140.1L500.3,135.3L501.8,134.1L503.3,132.9L504.7,131.8L506.9,131.4L509.1,131.1L511.2,130.8L513.2,130.5L515.1,130.2L516.7,128.8L518.2,127.4L522.5,128.8L526.6,130.8L529.0,130.3L531.4,129.8L537.1,131.2L539.3,134.9L542.1,135.9L544.8,135.9L547.4,135.9L550.1,135.9L553.0,136.1L555.9,136.3L558.8,136.5L561.6,136.2L564.4,135.9L568.1,136.9L575.9,141.2L577.9,140.1L581.1,140.1L584.4,140.1L586.2,139.1L588.0,138.0L591.0,138.2L594.0,138.4L597.0,138.6L600.3,139.1L603.6,139.5L606.9,139.9L610.2,140.3L613.6,140.8L616.9,141.2L620.2,141.6L623.5,141.9L626.7,142.3L632.9,144.2L635.6,144.2L638.3,144.1L640.9,144.0L642.9,143.7L644.9,143.4L647.6,143.5L650.2,143.6L652.9,143.7L655.6,143.8L660.3,144.7L665.0,145.6L671.9,150.0L678.6,154.6L676.8,155.7L681.4,160.4L679.8,161.2L678.2,162.1L677.3,164.2L676.4,166.3L672.2,166.0L668.1,165.6L664.9,166.8L667.2,171.2L674.5,176.1L675.6,179.8L676.4,183.5L674.7,184.7L674.7,188.5L669.8,184.7L662.9,178.5L659.5,173.6L659.6,171.2L657.9,166.3L657.3,162.8L653.1,162.3L650.5,162.4L647.9,162.5L648.1,165.0L648.2,167.6L645.4,167.6L642.6,167.6L640.1,167.8L637.5,168.0L634.6,167.9L631.7,167.8L629.4,168.3L627.1,168.8L625.8,171.2L625.5,174.8L628.1,179.8L632.1,181.0L636.1,182.2L641.7,185.5L644.4,191.0L647.3,194.8L647.0,198.7L646.5,202.5L645.2,206.9L642.1,207.7L638.9,208.4L637.7,210.0L637.2,210.5L637.4,214.1L637.7,214.7L635.2,216.7L634.8,218.0L638.0,220.4L642.1,224.6L643.9,228.5L643.5,229.5L640.8,230.8L638.9,231.4L637.2,228.5L636.3,224.6L634.2,222.7L632.1,222.5L630.4,220.6L630.1,218.0L627.7,217.0L625.1,217.8L623.0,219.6L621.4,218.0L622.2,215.4L619.2,214.7L617.2,217.0L614.9,218.8L615.2,220.9L619.0,223.5L620.0,224.3L622.6,222.5L626.8,223.5L624.6,225.9L622.4,228.5L625.4,231.6L628.8,236.3L631.5,238.4L631.5,240.8L633.3,242.9L633.4,246.8L632.1,250.2L631.0,253.9L629.3,257.0L626.5,259.6L623.5,261.7L620.8,263.0L619.2,263.3L616.0,264.3L612.9,265.6L612.6,268.2L611.0,265.1L607.1,264.8L605.1,266.4L604.4,268.2L603.4,271.7L605.3,275.6L608.1,278.7L610.2,280.8L612.3,284.7L613.4,288.7L612.8,291.8L609.8,293.9L608.0,294.4L604.4,298.9L603.8,296.5L602.9,294.2L600.6,293.6L599.2,291.3L597.9,289.4L594.3,288.1L593.9,286.0L591.9,286.3L591.9,288.7L590.7,293.9L591.9,297.3L593.6,299.4L594.5,302.5L596.1,303.3L598.1,305.1L600.5,307.5L601.3,310.9L601.4,314.3L603.3,317.4L601.7,318.0L598.2,315.3L596.6,313.8L594.6,310.4L594.0,307.0L593.4,304.4L590.7,300.7L589.0,299.9L589.2,295.7L589.3,291.3L587.7,286.0L586.2,280.8L584.9,277.9L582.8,277.4L580.8,280.0L578.0,279.5L578.2,275.6L576.8,271.7L575.1,269.6L572.2,266.4L571.6,265.1L570.1,263.0L568.2,262.0L566.9,264.1L564.0,264.6L562.0,264.8L559.5,266.4L558.9,268.5L555.8,270.9L553.8,273.5L550.4,277.9L548.1,279.5L546.2,280.8L546.5,287.1L545.9,291.3L546.1,294.4L544.4,297.3L542.6,298.1L541.1,300.2L538.9,298.1L537.3,293.9L536.0,290.5L534.2,287.6L532.4,282.6L530.5,279.5L528.8,274.3L528.1,271.7L527.5,267.7L527.0,265.4L525.7,265.9L523.1,267.2L518.6,263.0L520.0,261.7L517.3,259.6L514.1,257.3L513.3,256.5L512.0,254.9L507.5,255.4L503.1,255.7L501.0,255.4L497.4,254.9L492.8,254.1L491.2,253.6L489.7,250.5L488.5,250.2L485.8,251.8L483.5,251.5L479.9,249.7L477.1,248.1L475.7,245.7L474.2,243.1L471.1,241.8L470.4,243.1L469.2,244.2L470.4,246.8L473.3,250.5L475.1,252.5L476.1,256.0L477.4,257.0L478.5,255.4L478.1,253.1L477.2,253.3L477.1,256.5L478.8,258.0L482.0,258.3L485.3,257.8L487.3,255.2L488.4,253.1L489.4,256.2L492.2,258.8L494.7,259.6L497.7,262.5L495.9,267.7L494.0,271.7L491.7,274.3L488.5,276.4L483.8,277.7L481.4,279.5L477.0,282.1L473.7,284.7L469.7,286.3L465.8,287.9L462.4,288.1L460.5,282.6L460.1,278.2L457.1,274.3L454.6,270.3L451.3,265.1L449.4,259.4L446.4,256.0L444.4,252.0L441.1,247.8L440.1,244.2L439.0,241.3L438.1,239.5L438.7,238.7L439.3,236.3L439.6,234.8L440.2,232.7L440.9,230.8L440.7,229.0L440.2,227.2L440.9,225.6L439.4,225.6L437.6,225.1L435.2,226.6L433.0,226.9L429.6,225.1L428.4,226.4L425.3,225.6L423.1,225.1L421.4,223.3L420.1,221.2L419.1,218.0L418.4,216.7L418.3,216.0L416.6,214.4L413.5,214.7L412.5,216.0L410.6,215.4L411.2,218.0L412.6,220.6L414.2,221.9L412.3,222.2L412.7,224.6L411.3,226.1L409.5,225.1L408.4,223.0L408.9,221.2L407.6,219.9L405.7,217.8L404.0,215.7L403.5,212.1L402.3,210.8L399.2,209.0L396.0,207.7L394.2,205.9L392.6,203.3L391.2,204.1L390.6,202.3L388.2,202.8L388.1,205.1L391.0,207.7L393.1,211.0L396.7,211.8L398.6,213.9L401.9,216.5L399.1,215.7L397.9,217.0L399.2,219.3L398.0,220.9L396.1,221.9L396.2,219.6L396.0,216.7L393.3,214.9L391.5,213.4L388.7,212.3L385.9,210.5L384.6,209.0L383.8,206.6L381.1,205.4L378.2,206.9L375.1,208.7L372.6,207.9L369.9,208.2L369.1,210.5L369.3,211.8L367.2,213.1L364.5,214.1L363.0,216.7L361.9,218.0L363.0,219.9L361.5,221.2L360.8,223.0L359.1,224.6L358.0,225.3L353.0,225.3ZM423.9,213.6L427.2,213.9L429.2,213.4L432.1,211.8L436.3,211.3L439.4,213.4L443.1,214.1L446.7,214.1L450.3,212.8L450.1,211.0L446.2,207.9L442.6,205.6L439.9,204.1L438.3,203.3L436.1,203.8L433.8,205.1L431.9,204.8L429.7,202.8L431.8,201.5L428.4,201.0L425.6,200.0L423.9,202.5L422.3,205.6L421.2,208.4L421.4,211.6L421.7,212.8ZM435.3,202.8L435.4,200.0L438.3,198.7L441.2,198.2L442.9,198.2L441.0,200.2L440.5,201.8L438.6,202.8ZM460.7,202.5L460.5,206.4L462.4,209.2L465.1,212.1L467.8,216.0L467.5,220.6L468.1,223.0L471.7,224.6L474.0,225.3L479.1,224.8L479.0,223.5L477.4,220.6L475.7,218.0L476.5,216.7L474.1,212.8L472.9,210.3L470.4,208.4L469.1,205.1L467.0,204.8L468.0,203.0L472.1,203.0L471.9,200.5L467.9,198.7L464.2,200.0L461.4,201.2Z"/>
<path d="M60.1,145.6L62.0,146.5L62.7,147.7L63.4,148.9L65.0,149.6L66.6,150.3L67.7,152.3L63.9,153.4L58.0,155.7L55.2,154.6L53.3,154.1L51.3,153.7L46.5,154.6L53.2,150.0Z"/>
<path d="M69.0,140.1L69.6,141.2L72.0,140.8L71.0,139.9Z"/>
<path d="M351.1,191.0L354.5,190.0L358.6,189.5L361.6,189.1L364.5,188.8L365.3,187.5L364.1,186.5L365.9,184.5L363.1,183.5L362.9,182.0L361.6,180.0L359.7,177.3L358.7,176.3L356.8,176.1L358.8,173.1L359.2,172.1L356.9,171.9L355.0,172.1L356.8,169.7L353.2,169.7L351.6,171.4L351.9,174.8L351.0,176.8L352.9,178.5L355.8,179.0L356.7,181.0L357.1,182.5L356.7,183.0L353.5,182.7L354.3,184.0L354.7,185.5L352.3,186.5L355.6,187.5L356.6,188.0L354.2,188.3L352.6,189.8Z"/>
<path d="M350.7,185.5L350.4,182.5L351.1,179.5L350.6,177.8L348.5,177.5L346.6,178.0L346.0,180.3L343.3,180.5L343.0,182.5L344.5,184.0L342.0,186.0L343.5,187.3L346.7,186.8Z"/>
<path d="M323.4,157.4L326.5,157.8L329.5,158.3L333.2,157.3L336.9,156.2L338.9,154.1L336.9,151.6L334.9,151.2L331.3,152.1L327.8,152.1L323.6,151.4L323.2,153.4L320.6,153.4L323.8,155.1L320.4,154.8Z"/>
<path d="M389.2,222.5L395.2,225.3L396.1,221.2L391.1,221.4Z"/>
<path d="M380.5,219.3L383.1,219.1L383.3,214.4L379.9,214.4Z"/>
<path d="M380.7,213.1L382.4,212.8L382.5,209.0L380.6,210.5Z"/>
<path d="M413.7,229.0L419.9,229.8L419.6,229.0L414.7,228.2Z"/>
<path d="M433.0,230.6L436.7,230.0L437.7,228.0L434.2,229.3Z"/>
<path d="M383.7,177.8L386.9,178.5L386.5,175.8L384.6,176.3Z"/>
<path d="M381.4,178.3L383.4,178.3L382.7,177.0L381.6,177.3Z"/>
<path d="M378.7,125.9L381.9,127.3L385.2,128.8L387.5,129.2L389.9,129.6L392.0,128.7L394.0,127.8L397.0,128.0L400.1,128.2L402.1,125.3L399.5,124.9L397.0,124.5L394.4,124.0L397.1,123.3L399.7,122.6L397.2,122.5L394.6,122.4L392.1,122.3L389.6,122.3L387.6,122.7L385.5,123.1L383.2,123.3L380.8,123.4L378.4,123.5Z"/>
<path d="M448.2,140.1L446.0,138.0L446.8,135.9L447.3,134.0L449.2,132.0L451.0,131.2L452.7,130.4L455.3,129.8L457.9,129.2L460.6,129.0L463.3,128.9L465.9,128.8L463.3,130.2L460.7,130.8L458.0,131.4L456.0,132.4L454.0,133.4L452.1,135.5L451.8,137.8L454.8,140.3L457.3,141.8L453.3,142.1Z"/>
<path d="M502.7,124.9L506.5,125.6L510.3,126.3L512.3,125.9L514.4,125.6L516.4,125.3L511.9,123.1L507.6,122.1L503.3,121.1L501.3,121.3L499.2,121.5L497.2,121.7L495.9,122.4L494.7,123.1L498.7,124.0Z"/>
<path d="M575.7,132.8L579.3,133.6L582.9,134.4L586.5,135.3L588.2,134.5L589.8,133.8L591.8,133.1L593.7,132.4L589.3,131.6L584.8,130.8L582.5,130.9L580.2,131.0L577.8,131.2L576.8,132.0Z"/>
<path d="M571.8,131.8L574.4,131.9L576.9,132.0L579.4,132.2L575.0,130.4L573.0,130.6L571.0,130.8Z"/>
<path d="M427.6,122.6L430.3,122.8L433.0,123.0L435.8,123.1L437.2,122.1L434.5,121.9L431.7,121.7L429.0,121.6Z"/>
<path d="M654.9,201.2L657.1,200.0L651.2,192.8L654.4,193.6L647.4,188.5L643.7,183.5L639.3,180.0L640.0,182.2L644.5,187.3L647.7,191.7L650.7,196.1Z"/>
<path d="M658.6,213.1L659.9,212.1L659.7,210.8L660.2,210.0L664.5,211.8L664.6,210.0L665.4,209.2L667.0,208.2L664.7,206.4L664.8,205.6L662.9,206.1L659.7,205.1L655.6,202.5L655.9,203.8L657.3,205.6L658.4,208.2L656.5,208.2L656.8,209.2L656.7,210.8Z"/>
<path d="M648.9,232.4L650.9,232.4L652.1,231.6L654.0,231.1L656.4,230.6L657.6,230.8L657.8,231.6L658.4,232.7L660.3,233.8L660.9,232.7L661.7,231.6L661.0,230.6L662.2,230.8L664.2,230.8L665.0,229.8L665.5,230.8L665.5,229.5L666.6,229.0L667.3,230.0L668.2,229.3L668.7,228.0L667.3,226.4L666.9,224.0L665.4,221.2L666.4,220.6L665.8,218.0L663.2,215.4L661.6,213.1L660.6,213.6L659.6,213.6L659.7,215.2L661.5,218.0L662.1,220.6L661.7,222.2L661.4,223.8L659.5,225.1L658.1,223.3L658.1,224.6L657.8,227.4L657.1,228.2L654.9,228.2L652.4,228.5L650.9,229.0L649.6,230.8L648.6,231.6Z"/>
<path d="M647.1,233.7L648.3,233.4L649.3,232.7L651.1,233.4L652.4,235.0L652.5,236.8L652.8,239.2L651.6,240.2L650.3,239.7L650.0,238.4L648.8,236.3L647.8,236.1L647.1,234.8Z"/>
<path d="M653.0,234.2L654.2,235.5L654.2,234.0L655.4,233.7L657.2,234.2L657.5,232.9L656.8,231.9L655.2,231.4L653.8,231.6L652.9,232.4L651.7,233.2Z"/>
<path d="M633.8,261.2L635.7,264.1L637.0,261.4L636.9,256.0L635.4,255.2L634.2,257.0Z"/>
<path d="M609.4,270.9L611.9,273.7L614.3,273.0L614.7,270.1L613.4,268.8L610.5,269.0Z"/>
<path d="M546.4,300.4L547.1,295.7L549.6,298.9L551.4,302.3L549.9,305.1L548.5,305.9L547.1,304.1Z"/>
<path d="M638.8,283.9L640.6,285.3L643.3,285.0L647.4,288.4L646.9,286.3L644.3,284.5L642.3,282.6L640.5,279.8L641.6,275.8L640.9,273.0L637.7,272.7L637.0,275.3L637.4,279.0L636.7,280.3L638.2,283.2Z"/>
<path d="M643.9,303.1L647.2,301.2L648.4,302.3L651.6,305.7L652.4,303.6L654.2,303.1L653.3,299.1L651.4,295.7L649.3,299.1L647.8,299.9L645.9,299.1Z"/>
<path d="M648.5,295.2L650.6,294.7L651.7,292.1L650.2,288.7L647.9,288.7L648.9,291.8Z"/>
<path d="M643.1,293.9L645.3,295.2L646.4,297.6L645.9,293.9L644.9,291.0L642.8,290.5Z"/>
<path d="M632.5,299.4L634.3,297.8L637.6,293.9L636.9,291.8L635.1,294.2Z"/>
<path d="M638.4,286.3L640.8,289.2L641.2,286.8L639.5,285.8Z"/>
<path d="M582.2,306.7L587.6,307.8L590.5,311.4L594.5,316.1L597.1,317.2L601.1,320.1L604.2,326.3L607.4,329.7L606.9,336.5L603.7,336.8L598.8,331.8L595.9,327.9L594.4,323.5L591.3,317.4L588.0,314.6L585.2,311.2Z"/>
<path d="M605.1,339.2L607.6,337.1L612.4,337.6L617.1,339.4L622.2,339.4L626.4,341.8L626.0,344.1L620.6,343.1L616.0,342.6L611.5,341.8L608.1,340.7Z"/>
<path d="M614.4,317.4L615.6,321.9L617.2,325.8L617.3,329.2L620.8,330.5L623.6,329.7L627.2,332.1L630.4,331.3L631.7,327.9L631.8,324.0L634.1,321.4L634.6,318.8L637.1,318.2L635.0,315.3L635.2,308.8L637.7,307.8L634.0,304.6L631.6,303.1L628.9,308.0L626.0,309.3L623.6,313.3L619.7,314.8L616.7,316.7Z"/>
<path d="M638.1,335.8L640.4,336.0L640.4,329.2L642.1,328.4L645.1,333.9L646.1,333.1L643.3,327.9L644.3,324.0L647.5,324.0L645.7,322.9L642.2,323.7L640.1,320.1L641.9,318.0L646.4,319.3L650.3,317.7L651.9,317.4L649.8,320.3L646.1,320.2L642.4,320.1L640.4,321.6L639.2,324.0L637.2,329.2Z"/>
<path d="M657.2,322.7L659.6,320.1L658.3,317.4L659.9,316.1L658.1,315.6L657.2,318.8Z"/>
<path d="M658.2,330.3L662.8,329.7L664.6,331.3L659.3,330.8Z"/>
<path d="M653.4,329.7L656.3,330.3L655.6,331.6L653.5,331.0Z"/>
<path d="M646.6,348.3L650.3,346.0L655.8,343.3L654.8,344.4L650.2,347.3Z"/>
<path d="M638.5,344.1L642.4,343.6L645.9,343.1L645.4,343.9L640.0,344.7Z"/>
<path d="M631.6,343.9L634.4,342.8L636.9,343.6L633.1,344.9Z"/>
<path d="M626.4,342.8L629.1,343.3L631.4,343.1L630.6,344.7L627.9,344.4Z"/>
<path d="M636.4,346.5L639.5,346.2L640.2,348.1L637.8,347.3Z"/>
<path d="M665.3,325.0L668.6,322.4L672.2,323.7L672.6,327.9L675.1,330.3L679.1,325.3L682.6,326.1L687.2,327.9L688.3,328.2L694.0,330.3L697.3,332.9L699.0,335.8L702.8,337.1L703.6,339.2L701.4,341.5L703.9,343.6L706.0,346.2L708.0,348.3L705.3,348.6L701.9,347.8L699.0,344.7L695.4,341.5L692.9,343.1L691.8,345.2L687.2,345.2L684.7,342.8L681.6,343.3L680.2,340.5L682.2,339.2L681.0,335.2L676.5,333.7L672.9,331.8L670.8,331.6L669.2,332.1L667.5,328.7L670.1,327.6L667.5,327.1L665.3,325.3Z"/>
<path d="M705.0,335.8L708.8,335.0L712.6,332.4L714.2,333.4L710.9,337.1L706.3,337.6Z"/>
<path d="M710.9,328.2L713.6,329.7L716.2,333.4L715.1,333.7L713.1,330.5Z"/>
<path d="M719.4,334.7L721.3,336.8L722.1,339.2L720.5,338.4Z"/>
<path d="M723.4,339.7L725.8,341.3L725.3,342.3L723.6,340.7Z"/>
<path d="M728.9,342.3L732.3,343.6L733.1,346.2L730.9,345.2Z"/>
<path d="M730.0,345.7L732.7,346.2L732.3,347.3L730.3,346.7Z"/>
<path d="M743.6,360.6L744.9,361.9L744.0,363.8L743.5,361.9Z"/>
<path d="M734.8,374.2L736.7,375.5L740.3,379.2L738.8,379.7L735.8,376.3Z"/>
<path d="M766.6,366.9L769.7,367.4L768.8,369.0L766.8,368.7Z"/>
<path d="M770.8,364.5L773.7,364.0L772.2,365.6L770.2,365.3Z"/>
<path d="M618.7,378.9L620.8,378.4L627.2,375.3L632.1,374.5L637.5,372.4L641.2,367.9L643.4,364.3L647.3,361.4L649.9,359.3L653.2,357.5L655.9,360.6L659.4,360.4L660.4,356.7L662.4,353.8L665.4,350.9L667.2,351.5L669.2,352.2L672.5,353.3L676.3,352.8L676.8,353.8L674.2,356.2L672.7,360.4L675.7,362.7L680.2,366.9L683.6,366.9L686.2,361.4L687.4,355.4L689.2,350.2L690.2,349.4L691.9,354.1L692.2,358.5L695.0,360.6L694.6,364.5L695.1,370.8L700.1,375.0L701.0,380.0L703.4,380.5L704.6,385.5L706.4,389.1L704.8,396.2L700.9,402.5L697.9,406.7L693.7,410.1L688.9,414.8L685.9,419.5L681.6,420.3L675.8,423.4L673.9,421.3L670.1,422.9L666.3,421.8L664.2,419.7L665.2,416.1L663.4,414.5L664.6,412.4L661.4,414.5L660.6,413.5L664.0,410.3L665.3,407.5L661.2,410.3L658.1,412.7L658.2,409.0L655.7,405.1L652.0,403.8L647.3,404.1L640.4,405.9L634.9,407.7L632.8,410.1L627.5,409.8L623.7,411.1L619.6,413.2L616.6,413.0L613.8,411.1L616.3,408.5L617.9,404.1L618.1,398.6L618.0,395.9L617.4,390.7L616.5,389.7L618.9,386.8L618.1,384.2L619.5,381.6Z"/>
<path d="M669.5,427.8L671.8,428.8L677.0,428.3L675.0,431.4L672.0,434.3L669.2,435.3L667.7,435.1L668.3,431.7Z"/>
<path d="M739.8,411.4L740.6,413.0L740.9,416.1L742.6,417.1L741.8,419.7L744.5,420.5L747.0,420.0L743.6,423.4L740.9,424.2L739.4,426.0L735.1,429.1L732.6,430.1L732.0,429.4L735.0,426.8L734.7,423.9L736.7,422.9L739.5,419.0L739.8,416.9L739.3,414.0Z"/>
<path d="M729.3,427.3L731.3,428.3L730.5,430.4L725.8,433.8L723.3,435.8L718.9,437.1L714.0,441.2L709.9,443.0L707.8,443.0L705.4,441.5L707.5,439.4L713.3,436.4L720.1,433.5L724.8,430.7Z"/>
</g>
</g>
<rect x="103.5" y="537" width="71.0" height="11.5" fill="#ffffe5" stroke="#999" stroke-width="0.5"/>
<rect x="174.5" y="537" width="71.0" height="11.5" fill="#fff7bc" stroke="#999" stroke-width="0.5"/>
<rect x="245.5" y="537" width="71.0" height="11.5" fill="#fee391" stroke="#999" stroke-width="0.5"/>
<rect x="316.5" y="537" width="71.0" height="11.5" fill="#fec44f" stroke="#999" stroke-width="0.5"/>
<rect x="387.5" y="537" width="71.0" height="11.5" fill="#fe9929" stroke="#999" stroke-width="0.5"/>
<rect x="458.5" y="537" width="71.0" height="11.5" fill="#ec7014" stroke="#999" stroke-width="0.5"/>
<rect x="529.5" y="537" width="71.0" height="11.5" fill="#cc4c02" stroke="#999" stroke-width="0.5"/>
<rect x="600.5" y="537" width="71.0" height="11.5" fill="#993404" stroke="#999" stroke-width="0.5"/>
<rect x="671.5" y="537" width="71.0" height="11.5" fill="#812d06" stroke="#999" stroke-width="0.5"/>
<path d="M742.5,537H809.0L813.6,542.75L809.0,548.5H742.5Z" fill="#662506" stroke="#999" stroke-width="0.5"/>
<line x1="103.5" y1="519.5" x2="103.5" y2="537" stroke="#bbb" stroke-width="0.6"/>
<text x="103.5" y="515.6" text-anchor="middle" class="lg" textLength="16.5" lengthAdjust="spacingAndGlyphs">0 t</text>
<line x1="174.5" y1="534" x2="174.5" y2="537" stroke="#bbb" stroke-width="0.6"/>
<text x="174.5" y="530.1" text-anchor="middle" class="lg" textLength="67" lengthAdjust="spacingAndGlyphs">10 million t</text>
<line x1="245.5" y1="519.5" x2="245.5" y2="537" stroke="#bbb" stroke-width="0.6"/>
<text x="245.5" y="515.6" text-anchor="middle" class="lg" textLength="67" lengthAdjust="spacingAndGlyphs">30 million t</text>
<line x1="316.5" y1="534" x2="316.5" y2="537" stroke="#bbb" stroke-width="0.6"/>
<text x="316.5" y="530.1" text-anchor="middle" class="lg" textLength="74" lengthAdjust="spacingAndGlyphs">100 million t</text>
<line x1="387.5" y1="519.5" x2="387.5" y2="537" stroke="#bbb" stroke-width="0.6"/>
<text x="387.5" y="515.6" text-anchor="middle" class="lg" textLength="74" lengthAdjust="spacingAndGlyphs">300 million t</text>
<line x1="458.5" y1="534" x2="458.5" y2="537" stroke="#bbb" stroke-width="0.6"/>
<text x="458.5" y="530.1" text-anchor="middle" class="lg" textLength="56" lengthAdjust="spacingAndGlyphs">1 billion t</text>
<line x1="529.5" y1="519.5" x2="529.5" y2="537" stroke="#bbb" stroke-width="0.6"/>
<text x="529.5" y="515.6" text-anchor="middle" class="lg" textLength="56" lengthAdjust="spacingAndGlyphs">3 billion t</text>
<line x1="600.5" y1="534" x2="600.5" y2="537" stroke="#bbb" stroke-width="0.6"/>
<text x="600.5" y="530.1" text-anchor="middle" class="lg" textLength="63" lengthAdjust="spacingAndGlyphs">10 billion t</text>
<line x1="671.5" y1="519.5" x2="671.5" y2="537" stroke="#bbb" stroke-width="0.6"/>
<text x="671.5" y="515.6" text-anchor="middle" class="lg" textLength="63" lengthAdjust="spacingAndGlyphs">30 billion t</text>
<line x1="742.5" y1="534" x2="742.5" y2="537" stroke="#bbb" stroke-width="0.6"/>
<text x="742.5" y="530.1" text-anchor="middle" class="lg" textLength="71.5" lengthAdjust="spacingAndGlyphs">100 billion t</text>
<rect x="36.5" y="537" width="47" height="11.5" fill="url(#hatch)" stroke="#aaa" stroke-width="0.6"/>
<line x1="60" y1="534" x2="60" y2="537" stroke="#bbb" stroke-width="0.6"/>
<text x="60" y="530.1" text-anchor="middle" class="lg" textLength="46.4" lengthAdjust="spacingAndGlyphs">No data</text>
<text x="16.3" y="580.5" class="ft" textLength="242.5" lengthAdjust="spacingAndGlyphs"><tspan font-weight="bold">Data source:</tspan> Global Carbon Budget (2025)</text>
<text x="830" y="580.5" text-anchor="end" class="ft" textLength="370" lengthAdjust="spacingAndGlyphs">OurWorldinData.org/co2-and-greenhouse-gas-emissions | CC BY</text>
</svg>
</body></html>
